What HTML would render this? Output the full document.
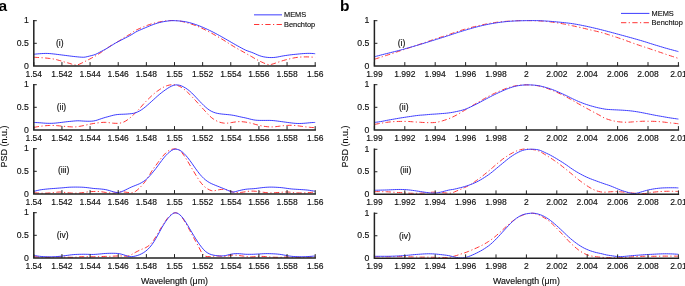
<!DOCTYPE html>
<html><head><meta charset="utf-8"><style>
html,body{margin:0;padding:0;background:#fff;width:685px;height:286px;overflow:hidden;}
svg{display:block;}
text{font-family:"Liberation Sans", sans-serif;stroke:#111;stroke-width:0.15px;}
svg{will-change:transform;}
</style></head><body>
<svg width="685" height="286" viewBox="0 0 685 286">
<path d="M33.80 57.26 C34.13 57.27 35.13 57.33 35.80 57.36 C36.47 57.40 37.13 57.44 37.80 57.47 C38.47 57.51 39.13 57.56 39.80 57.60 C40.47 57.64 41.13 57.68 41.80 57.73 C42.47 57.78 43.13 57.82 43.80 57.87 C44.47 57.92 45.13 57.98 45.80 58.04 C46.47 58.10 47.13 58.17 47.80 58.24 C48.47 58.31 49.13 58.39 49.80 58.47 C50.47 58.55 51.13 58.64 51.80 58.74 C52.47 58.84 53.13 58.94 53.80 59.07 C54.47 59.20 55.13 59.34 55.80 59.50 C56.47 59.66 57.13 59.83 57.80 60.02 C58.47 60.20 59.13 60.39 59.80 60.58 C60.47 60.78 61.13 60.99 61.80 61.19 C62.47 61.39 63.13 61.60 63.80 61.80 C64.47 61.99 65.13 62.18 65.80 62.36 C66.47 62.55 67.13 62.71 67.80 62.89 C68.47 63.08 69.13 63.25 69.80 63.46 C70.47 63.67 71.13 63.92 71.80 64.14 C72.47 64.36 73.13 64.64 73.80 64.80 C74.47 64.95 75.13 65.09 75.80 65.08 C76.47 65.07 77.13 64.93 77.80 64.75 C78.47 64.57 79.13 64.27 79.80 63.99 C80.47 63.71 81.13 63.37 81.80 63.05 C82.47 62.73 83.13 62.39 83.80 62.06 C84.47 61.73 85.13 61.40 85.80 61.06 C86.47 60.73 87.13 60.39 87.80 60.05 C88.47 59.71 89.13 59.37 89.80 59.02 C90.47 58.67 91.13 58.32 91.80 57.96 C92.47 57.60 93.13 57.23 93.80 56.85 C94.47 56.47 95.13 56.08 95.80 55.69 C96.47 55.30 97.13 54.90 97.80 54.49 C98.47 54.08 99.13 53.66 99.80 53.24 C100.47 52.81 101.13 52.38 101.80 51.93 C102.47 51.49 103.13 51.04 103.80 50.58 C104.47 50.11 105.13 49.63 105.80 49.15 C106.47 48.67 107.13 48.18 107.80 47.71 C108.47 47.24 109.13 46.78 109.80 46.33 C110.47 45.89 111.13 45.46 111.80 45.05 C112.47 44.63 113.13 44.23 113.80 43.84 C114.47 43.46 115.13 43.10 115.80 42.74 C116.47 42.38 117.13 42.05 117.80 41.68 C118.47 41.31 119.13 40.93 119.80 40.51 C120.47 40.09 121.13 39.61 121.80 39.15 C122.47 38.68 123.13 38.18 123.80 37.75 C124.47 37.31 125.13 36.91 125.80 36.53 C126.47 36.16 127.13 35.85 127.80 35.49 C128.47 35.12 129.13 34.76 129.80 34.34 C130.47 33.91 131.13 33.41 131.80 32.92 C132.47 32.44 133.13 31.89 133.80 31.45 C134.47 31.00 135.13 30.62 135.80 30.26 C136.47 29.91 137.13 29.61 137.80 29.30 C138.47 28.99 139.13 28.70 139.80 28.41 C140.47 28.12 141.13 27.84 141.80 27.56 C142.47 27.28 143.13 27.01 143.80 26.74 C144.47 26.47 145.13 26.20 145.80 25.94 C146.47 25.68 147.13 25.41 147.80 25.16 C148.47 24.91 149.13 24.66 149.80 24.44 C150.47 24.21 151.13 24.00 151.80 23.80 C152.47 23.61 153.13 23.43 153.80 23.26 C154.47 23.09 155.13 22.94 155.80 22.78 C156.47 22.63 157.13 22.48 157.80 22.33 C158.47 22.18 159.13 22.03 159.80 21.89 C160.47 21.74 161.13 21.60 161.80 21.47 C162.47 21.34 163.13 21.22 163.80 21.12 C164.47 21.02 165.13 20.93 165.80 20.86 C166.47 20.78 167.13 20.73 167.80 20.68 C168.47 20.63 169.13 20.59 169.80 20.56 C170.47 20.54 171.13 20.52 171.80 20.51 C172.47 20.50 173.13 20.50 173.80 20.52 C174.47 20.53 175.13 20.56 175.80 20.60 C176.47 20.65 177.13 20.71 177.80 20.79 C178.47 20.86 179.13 20.95 179.80 21.06 C180.47 21.17 181.13 21.30 181.80 21.45 C182.47 21.59 183.13 21.77 183.80 21.94 C184.47 22.11 185.13 22.29 185.80 22.47 C186.47 22.65 187.13 22.83 187.80 23.02 C188.47 23.21 189.13 23.40 189.80 23.61 C190.47 23.81 191.13 24.01 191.80 24.23 C192.47 24.44 193.13 24.67 193.80 24.90 C194.47 25.14 195.13 25.38 195.80 25.64 C196.47 25.90 197.13 26.17 197.80 26.45 C198.47 26.72 199.13 27.01 199.80 27.31 C200.47 27.60 201.13 27.91 201.80 28.22 C202.47 28.52 203.13 28.84 203.80 29.17 C204.47 29.49 205.13 29.82 205.80 30.16 C206.47 30.50 207.13 30.84 207.80 31.19 C208.47 31.54 209.13 31.89 209.80 32.25 C210.47 32.61 211.13 32.97 211.80 33.34 C212.47 33.71 213.13 34.08 213.80 34.45 C214.47 34.82 215.13 35.20 215.80 35.58 C216.47 35.95 217.13 36.33 217.80 36.71 C218.47 37.09 219.13 37.47 219.80 37.86 C220.47 38.24 221.13 38.63 221.80 39.03 C222.47 39.43 223.13 39.84 223.80 40.25 C224.47 40.67 225.13 41.09 225.80 41.51 C226.47 41.92 227.13 42.35 227.80 42.77 C228.47 43.19 229.13 43.61 229.80 44.03 C230.47 44.45 231.13 44.88 231.80 45.30 C232.47 45.72 233.13 46.14 233.80 46.55 C234.47 46.95 235.13 47.35 235.80 47.74 C236.47 48.13 237.13 48.50 237.80 48.86 C238.47 49.23 239.13 49.59 239.80 49.95 C240.47 50.32 241.13 50.68 241.80 51.05 C242.47 51.42 243.13 51.80 243.80 52.18 C244.47 52.56 245.13 52.95 245.80 53.33 C246.47 53.72 247.13 54.10 247.80 54.47 C248.47 54.85 249.13 55.21 249.80 55.58 C250.47 55.96 251.13 56.33 251.80 56.72 C252.47 57.11 253.13 57.52 253.80 57.91 C254.47 58.31 255.13 58.72 255.80 59.09 C256.47 59.47 257.13 59.83 257.80 60.17 C258.47 60.52 259.13 60.84 259.80 61.16 C260.47 61.48 261.13 61.80 261.80 62.10 C262.47 62.41 263.13 62.72 263.80 63.00 C264.47 63.29 265.13 63.57 265.80 63.82 C266.47 64.06 267.13 64.32 267.80 64.46 C268.47 64.60 269.13 64.69 269.80 64.66 C270.47 64.63 271.13 64.45 271.80 64.28 C272.47 64.11 273.13 63.87 273.80 63.66 C274.47 63.44 275.13 63.22 275.80 62.99 C276.47 62.77 277.13 62.54 277.80 62.31 C278.47 62.09 279.13 61.86 279.80 61.63 C280.47 61.41 281.13 61.18 281.80 60.97 C282.47 60.76 283.13 60.56 283.80 60.36 C284.47 60.17 285.13 59.99 285.80 59.82 C286.47 59.64 287.13 59.47 287.80 59.31 C288.47 59.14 289.13 58.97 289.80 58.81 C290.47 58.66 291.13 58.50 291.80 58.35 C292.47 58.21 293.13 58.07 293.80 57.94 C294.47 57.81 295.13 57.69 295.80 57.58 C296.47 57.48 297.13 57.38 297.80 57.30 C298.47 57.22 299.13 57.15 299.80 57.10 C300.47 57.05 301.13 57.01 301.80 56.98 C302.47 56.94 303.13 56.92 303.80 56.91 C304.47 56.89 305.13 56.89 305.80 56.89 C306.47 56.89 307.13 56.90 307.80 56.92 C308.47 56.94 309.13 56.96 309.80 56.99 C310.47 57.02 311.13 57.05 311.80 57.08 C312.47 57.12 313.23 57.16 313.80 57.18 C314.37 57.21 314.97 57.24 315.20 57.26" fill="none" stroke="#ff3434" stroke-width="1.00" stroke-dasharray="5.3 2.4 1.2 2.4"/>
<path d="M33.80 54.23 C34.13 54.21 35.13 54.11 35.80 54.06 C36.47 54.00 37.13 53.94 37.80 53.88 C38.47 53.83 39.13 53.78 39.80 53.73 C40.47 53.68 41.13 53.63 41.80 53.59 C42.47 53.54 43.13 53.50 43.80 53.47 C44.47 53.44 45.13 53.42 45.80 53.41 C46.47 53.41 47.13 53.43 47.80 53.46 C48.47 53.48 49.13 53.53 49.80 53.59 C50.47 53.64 51.13 53.70 51.80 53.77 C52.47 53.83 53.13 53.90 53.80 53.98 C54.47 54.05 55.13 54.13 55.80 54.21 C56.47 54.30 57.13 54.39 57.80 54.47 C58.47 54.56 59.13 54.65 59.80 54.73 C60.47 54.82 61.13 54.90 61.80 54.98 C62.47 55.07 63.13 55.15 63.80 55.23 C64.47 55.32 65.13 55.40 65.80 55.48 C66.47 55.57 67.13 55.65 67.80 55.74 C68.47 55.82 69.13 55.91 69.80 55.99 C70.47 56.08 71.13 56.16 71.80 56.24 C72.47 56.32 73.13 56.40 73.80 56.47 C74.47 56.55 75.13 56.62 75.80 56.69 C76.47 56.76 77.13 56.83 77.80 56.90 C78.47 56.96 79.13 57.02 79.80 57.07 C80.47 57.12 81.13 57.17 81.80 57.20 C82.47 57.23 83.13 57.27 83.80 57.24 C84.47 57.20 85.13 57.11 85.80 56.99 C86.47 56.87 87.13 56.68 87.80 56.51 C88.47 56.35 89.13 56.18 89.80 56.01 C90.47 55.84 91.13 55.68 91.80 55.51 C92.47 55.33 93.13 55.18 93.80 54.97 C94.47 54.75 95.13 54.53 95.80 54.24 C96.47 53.96 97.13 53.62 97.80 53.28 C98.47 52.93 99.13 52.54 99.80 52.18 C100.47 51.82 101.13 51.46 101.80 51.11 C102.47 50.76 103.13 50.44 103.80 50.09 C104.47 49.74 105.13 49.39 105.80 49.02 C106.47 48.64 107.13 48.24 107.80 47.84 C108.47 47.44 109.13 47.02 109.80 46.60 C110.47 46.19 111.13 45.77 111.80 45.36 C112.47 44.94 113.13 44.52 113.80 44.12 C114.47 43.71 115.13 43.31 115.80 42.92 C116.47 42.54 117.13 42.17 117.80 41.81 C118.47 41.46 119.13 41.12 119.80 40.78 C120.47 40.43 121.13 40.09 121.80 39.75 C122.47 39.41 123.13 39.06 123.80 38.72 C124.47 38.38 125.13 38.04 125.80 37.69 C126.47 37.35 127.13 37.02 127.80 36.68 C128.47 36.33 129.13 35.99 129.80 35.63 C130.47 35.27 131.13 34.90 131.80 34.50 C132.47 34.11 133.13 33.66 133.80 33.24 C134.47 32.82 135.13 32.36 135.80 31.99 C136.47 31.61 137.13 31.30 137.80 30.98 C138.47 30.67 139.13 30.39 139.80 30.10 C140.47 29.81 141.13 29.54 141.80 29.26 C142.47 28.98 143.13 28.70 143.80 28.42 C144.47 28.14 145.13 27.85 145.80 27.56 C146.47 27.28 147.13 26.98 147.80 26.70 C148.47 26.41 149.13 26.13 149.80 25.86 C150.47 25.59 151.13 25.32 151.80 25.07 C152.47 24.81 153.13 24.56 153.80 24.32 C154.47 24.08 155.13 23.85 155.80 23.63 C156.47 23.41 157.13 23.20 157.80 23.01 C158.47 22.82 159.13 22.65 159.80 22.48 C160.47 22.32 161.13 22.17 161.80 22.03 C162.47 21.88 163.13 21.76 163.80 21.63 C164.47 21.51 165.13 21.40 165.80 21.29 C166.47 21.18 167.13 21.08 167.80 21.00 C168.47 20.92 169.13 20.84 169.80 20.79 C170.47 20.73 171.13 20.69 171.80 20.67 C172.47 20.65 173.13 20.65 173.80 20.66 C174.47 20.67 175.13 20.70 175.80 20.73 C176.47 20.76 177.13 20.81 177.80 20.85 C178.47 20.90 179.13 20.95 179.80 21.01 C180.47 21.07 181.13 21.14 181.80 21.22 C182.47 21.30 183.13 21.38 183.80 21.48 C184.47 21.58 185.13 21.69 185.80 21.82 C186.47 21.94 187.13 22.08 187.80 22.23 C188.47 22.38 189.13 22.54 189.80 22.72 C190.47 22.90 191.13 23.09 191.80 23.30 C192.47 23.50 193.13 23.71 193.80 23.93 C194.47 24.15 195.13 24.37 195.80 24.60 C196.47 24.83 197.13 25.07 197.80 25.32 C198.47 25.56 199.13 25.81 199.80 26.07 C200.47 26.33 201.13 26.60 201.80 26.88 C202.47 27.15 203.13 27.44 203.80 27.73 C204.47 28.02 205.13 28.32 205.80 28.62 C206.47 28.93 207.13 29.24 207.80 29.55 C208.47 29.87 209.13 30.18 209.80 30.51 C210.47 30.83 211.13 31.16 211.80 31.49 C212.47 31.82 213.13 32.16 213.80 32.50 C214.47 32.85 215.13 33.20 215.80 33.55 C216.47 33.90 217.13 34.26 217.80 34.63 C218.47 34.99 219.13 35.36 219.80 35.73 C220.47 36.10 221.13 36.48 221.80 36.85 C222.47 37.23 223.13 37.61 223.80 37.99 C224.47 38.37 225.13 38.76 225.80 39.14 C226.47 39.53 227.13 39.91 227.80 40.30 C228.47 40.68 229.13 41.07 229.80 41.45 C230.47 41.84 231.13 42.22 231.80 42.61 C232.47 42.99 233.13 43.38 233.80 43.76 C234.47 44.14 235.13 44.52 235.80 44.89 C236.47 45.27 237.13 45.64 237.80 46.01 C238.47 46.38 239.13 46.75 239.80 47.12 C240.47 47.48 241.13 47.84 241.80 48.19 C242.47 48.55 243.13 48.91 243.80 49.25 C244.47 49.58 245.13 49.93 245.80 50.23 C246.47 50.52 247.13 50.77 247.80 51.01 C248.47 51.26 249.13 51.46 249.80 51.69 C250.47 51.92 251.13 52.14 251.80 52.39 C252.47 52.64 253.13 52.92 253.80 53.20 C254.47 53.49 255.13 53.81 255.80 54.10 C256.47 54.40 257.13 54.71 257.80 54.99 C258.47 55.27 259.13 55.54 259.80 55.78 C260.47 56.02 261.13 56.23 261.80 56.41 C262.47 56.59 263.13 56.74 263.80 56.87 C264.47 57.00 265.13 57.10 265.80 57.19 C266.47 57.29 267.13 57.36 267.80 57.42 C268.47 57.48 269.13 57.52 269.80 57.55 C270.47 57.57 271.13 57.58 271.80 57.57 C272.47 57.55 273.13 57.53 273.80 57.48 C274.47 57.43 275.13 57.37 275.80 57.28 C276.47 57.20 277.13 57.08 277.80 56.96 C278.47 56.84 279.13 56.68 279.80 56.55 C280.47 56.42 281.13 56.28 281.80 56.15 C282.47 56.03 283.13 55.92 283.80 55.80 C284.47 55.69 285.13 55.59 285.80 55.49 C286.47 55.38 287.13 55.29 287.80 55.19 C288.47 55.10 289.13 55.01 289.80 54.93 C290.47 54.84 291.13 54.76 291.80 54.69 C292.47 54.61 293.13 54.55 293.80 54.48 C294.47 54.41 295.13 54.35 295.80 54.29 C296.47 54.22 297.13 54.15 297.80 54.08 C298.47 54.02 299.13 53.94 299.80 53.88 C300.47 53.82 301.13 53.76 301.80 53.70 C302.47 53.64 303.13 53.59 303.80 53.55 C304.47 53.50 305.13 53.46 305.80 53.43 C306.47 53.40 307.13 53.38 307.80 53.37 C308.47 53.36 309.13 53.36 309.80 53.37 C310.47 53.38 311.13 53.40 311.80 53.44 C312.47 53.47 313.23 53.54 313.80 53.59 C314.37 53.64 314.97 53.71 315.20 53.73" fill="none" stroke="#3c3cff" stroke-width="1.00"/>
<path d="M33.80 19.95 V65.90 H315.95" fill="none" stroke="#222" stroke-width="1.50"/>
<path d="M33.80 65.90 V62.10 M61.94 65.90 V62.10 M90.08 65.90 V62.10 M118.22 65.90 V62.10 M146.36 65.90 V62.10 M174.50 65.90 V62.10 M202.64 65.90 V62.10 M230.78 65.90 V62.10 M258.92 65.90 V62.10 M287.06 65.90 V62.10 M315.20 65.90 V62.10 M33.80 43.30 H36.80 M33.80 20.70 H36.80" fill="none" stroke="#222" stroke-width="1"/>
<text x="33.80" y="76.50" font-family="Liberation Sans, sans-serif" font-size="8.50" fill="#111" text-anchor="middle">1.54</text>
<text x="61.94" y="76.50" font-family="Liberation Sans, sans-serif" font-size="8.50" fill="#111" text-anchor="middle">1.542</text>
<text x="90.08" y="76.50" font-family="Liberation Sans, sans-serif" font-size="8.50" fill="#111" text-anchor="middle">1.544</text>
<text x="118.22" y="76.50" font-family="Liberation Sans, sans-serif" font-size="8.50" fill="#111" text-anchor="middle">1.546</text>
<text x="146.36" y="76.50" font-family="Liberation Sans, sans-serif" font-size="8.50" fill="#111" text-anchor="middle">1.548</text>
<text x="174.50" y="76.50" font-family="Liberation Sans, sans-serif" font-size="8.50" fill="#111" text-anchor="middle">1.55</text>
<text x="202.64" y="76.50" font-family="Liberation Sans, sans-serif" font-size="8.50" fill="#111" text-anchor="middle">1.552</text>
<text x="230.78" y="76.50" font-family="Liberation Sans, sans-serif" font-size="8.50" fill="#111" text-anchor="middle">1.554</text>
<text x="258.92" y="76.50" font-family="Liberation Sans, sans-serif" font-size="8.50" fill="#111" text-anchor="middle">1.556</text>
<text x="287.06" y="76.50" font-family="Liberation Sans, sans-serif" font-size="8.50" fill="#111" text-anchor="middle">1.558</text>
<text x="315.20" y="76.50" font-family="Liberation Sans, sans-serif" font-size="8.50" fill="#111" text-anchor="middle">1.56</text>
<text x="28.80" y="68.60" font-family="Liberation Sans, sans-serif" font-size="8.70" fill="#111" text-anchor="end">0</text>
<text x="28.80" y="46.00" font-family="Liberation Sans, sans-serif" font-size="8.70" fill="#111" text-anchor="end">0.5</text>
<text x="28.80" y="23.40" font-family="Liberation Sans, sans-serif" font-size="8.70" fill="#111" text-anchor="end">1</text>
<text x="56.00" y="46.35" font-family="Liberation Sans, sans-serif" font-size="8.60" fill="#111">(i)</text>
<path d="M33.80 127.46 C34.13 127.40 35.13 127.19 35.80 127.05 C36.47 126.92 37.13 126.79 37.80 126.68 C38.47 126.56 39.13 126.46 39.80 126.36 C40.47 126.26 41.13 126.18 41.80 126.10 C42.47 126.02 43.13 125.95 43.80 125.88 C44.47 125.82 45.13 125.75 45.80 125.70 C46.47 125.64 47.13 125.59 47.80 125.55 C48.47 125.51 49.13 125.48 49.80 125.46 C50.47 125.45 51.13 125.44 51.80 125.45 C52.47 125.45 53.13 125.47 53.80 125.49 C54.47 125.51 55.13 125.54 55.80 125.58 C56.47 125.62 57.13 125.67 57.80 125.73 C58.47 125.79 59.13 125.86 59.80 125.93 C60.47 126.00 61.13 126.08 61.80 126.14 C62.47 126.21 63.13 126.28 63.80 126.34 C64.47 126.40 65.13 126.45 65.80 126.50 C66.47 126.55 67.13 126.60 67.80 126.65 C68.47 126.70 69.13 126.74 69.80 126.78 C70.47 126.83 71.13 126.87 71.80 126.90 C72.47 126.93 73.13 126.96 73.80 126.96 C74.47 126.95 75.13 126.92 75.80 126.87 C76.47 126.82 77.13 126.73 77.80 126.63 C78.47 126.54 79.13 126.43 79.80 126.31 C80.47 126.20 81.13 126.08 81.80 125.95 C82.47 125.82 83.13 125.68 83.80 125.54 C84.47 125.40 85.13 125.25 85.80 125.10 C86.47 124.94 87.13 124.78 87.80 124.62 C88.47 124.47 89.13 124.31 89.80 124.17 C90.47 124.04 91.13 123.91 91.80 123.79 C92.47 123.68 93.13 123.57 93.80 123.47 C94.47 123.36 95.13 123.26 95.80 123.16 C96.47 123.07 97.13 122.97 97.80 122.88 C98.47 122.79 99.13 122.71 99.80 122.64 C100.47 122.57 101.13 122.50 101.80 122.45 C102.47 122.40 103.13 122.35 103.80 122.34 C104.47 122.32 105.13 122.33 105.80 122.36 C106.47 122.39 107.13 122.46 107.80 122.53 C108.47 122.61 109.13 122.70 109.80 122.79 C110.47 122.88 111.13 122.98 111.80 123.06 C112.47 123.13 113.13 123.20 113.80 123.24 C114.47 123.29 115.13 123.32 115.80 123.33 C116.47 123.35 117.13 123.36 117.80 123.33 C118.47 123.30 119.13 123.24 119.80 123.13 C120.47 123.03 121.13 122.90 121.80 122.71 C122.47 122.52 123.13 122.30 123.80 122.01 C124.47 121.71 125.13 121.35 125.80 120.95 C126.47 120.55 127.13 120.08 127.80 119.59 C128.47 119.10 129.13 118.58 129.80 118.02 C130.47 117.47 131.13 116.88 131.80 116.28 C132.47 115.68 133.13 115.05 133.80 114.42 C134.47 113.79 135.13 113.15 135.80 112.49 C136.47 111.84 137.13 111.18 137.80 110.49 C138.47 109.80 139.13 109.08 139.80 108.34 C140.47 107.59 141.13 106.79 141.80 106.01 C142.47 105.24 143.13 104.44 143.80 103.70 C144.47 102.95 145.13 102.25 145.80 101.56 C146.47 100.87 147.13 100.22 147.80 99.56 C148.47 98.90 149.13 98.26 149.80 97.62 C150.47 96.98 151.13 96.32 151.80 95.70 C152.47 95.08 153.13 94.47 153.80 93.90 C154.47 93.32 155.13 92.78 155.80 92.26 C156.47 91.75 157.13 91.27 157.80 90.80 C158.47 90.33 159.13 89.87 159.80 89.43 C160.47 88.99 161.13 88.56 161.80 88.16 C162.47 87.76 163.13 87.37 163.80 87.03 C164.47 86.69 165.13 86.39 165.80 86.13 C166.47 85.87 167.13 85.64 167.80 85.45 C168.47 85.26 169.13 85.10 169.80 84.98 C170.47 84.86 171.13 84.76 171.80 84.71 C172.47 84.66 173.13 84.64 173.80 84.69 C174.47 84.73 175.13 84.83 175.80 84.98 C176.47 85.13 177.13 85.34 177.80 85.58 C178.47 85.82 179.13 86.10 179.80 86.44 C180.47 86.78 181.13 87.17 181.80 87.61 C182.47 88.04 183.13 88.55 183.80 89.06 C184.47 89.58 185.13 90.12 185.80 90.69 C186.47 91.27 187.13 91.88 187.80 92.50 C188.47 93.13 189.13 93.79 189.80 94.46 C190.47 95.13 191.13 95.82 191.80 96.52 C192.47 97.22 193.13 97.94 193.80 98.66 C194.47 99.39 195.13 100.11 195.80 100.84 C196.47 101.57 197.13 102.30 197.80 103.04 C198.47 103.77 199.13 104.51 199.80 105.25 C200.47 105.98 201.13 106.72 201.80 107.45 C202.47 108.19 203.13 108.92 203.80 109.65 C204.47 110.39 205.13 111.12 205.80 111.85 C206.47 112.59 207.13 113.34 207.80 114.05 C208.47 114.76 209.13 115.46 209.80 116.09 C210.47 116.72 211.13 117.30 211.80 117.83 C212.47 118.36 213.13 118.84 213.80 119.29 C214.47 119.74 215.13 120.14 215.80 120.51 C216.47 120.87 217.13 121.19 217.80 121.48 C218.47 121.77 219.13 122.02 219.80 122.24 C220.47 122.45 221.13 122.64 221.80 122.78 C222.47 122.93 223.13 123.04 223.80 123.12 C224.47 123.19 225.13 123.23 225.80 123.23 C226.47 123.22 227.13 123.17 227.80 123.10 C228.47 123.04 229.13 122.94 229.80 122.84 C230.47 122.75 231.13 122.64 231.80 122.53 C232.47 122.42 233.13 122.29 233.80 122.18 C234.47 122.08 235.13 121.98 235.80 121.90 C236.47 121.82 237.13 121.75 237.80 121.70 C238.47 121.66 239.13 121.62 239.80 121.62 C240.47 121.62 241.13 121.64 241.80 121.68 C242.47 121.73 243.13 121.80 243.80 121.88 C244.47 121.96 245.13 122.05 245.80 122.15 C246.47 122.25 247.13 122.36 247.80 122.48 C248.47 122.61 249.13 122.74 249.80 122.89 C250.47 123.03 251.13 123.18 251.80 123.35 C252.47 123.52 253.13 123.73 253.80 123.92 C254.47 124.12 255.13 124.33 255.80 124.52 C256.47 124.71 257.13 124.87 257.80 125.03 C258.47 125.20 259.13 125.35 259.80 125.50 C260.47 125.65 261.13 125.79 261.80 125.91 C262.47 126.04 263.13 126.17 263.80 126.28 C264.47 126.38 265.13 126.48 265.80 126.57 C266.47 126.65 267.13 126.73 267.80 126.78 C268.47 126.84 269.13 126.89 269.80 126.91 C270.47 126.93 271.13 126.94 271.80 126.93 C272.47 126.92 273.13 126.88 273.80 126.83 C274.47 126.79 275.13 126.72 275.80 126.66 C276.47 126.59 277.13 126.51 277.80 126.42 C278.47 126.34 279.13 126.24 279.80 126.15 C280.47 126.06 281.13 125.97 281.80 125.89 C282.47 125.81 283.13 125.74 283.80 125.67 C284.47 125.61 285.13 125.54 285.80 125.49 C286.47 125.44 287.13 125.40 287.80 125.37 C288.47 125.33 289.13 125.31 289.80 125.30 C290.47 125.29 291.13 125.29 291.80 125.31 C292.47 125.33 293.13 125.36 293.80 125.41 C294.47 125.45 295.13 125.51 295.80 125.57 C296.47 125.64 297.13 125.72 297.80 125.80 C298.47 125.88 299.13 125.98 299.80 126.07 C300.47 126.16 301.13 126.25 301.80 126.35 C302.47 126.44 303.13 126.53 303.80 126.62 C304.47 126.71 305.13 126.80 305.80 126.88 C306.47 126.96 307.13 127.04 307.80 127.11 C308.47 127.18 309.13 127.25 309.80 127.31 C310.47 127.38 311.13 127.43 311.80 127.48 C312.47 127.52 313.23 127.55 313.80 127.58 C314.37 127.61 314.97 127.62 315.20 127.63" fill="none" stroke="#ff3434" stroke-width="1.00" stroke-dasharray="5.3 2.4 1.2 2.4"/>
<path d="M33.80 122.43 C34.13 122.45 35.13 122.50 35.80 122.54 C36.47 122.57 37.13 122.61 37.80 122.65 C38.47 122.69 39.13 122.73 39.80 122.78 C40.47 122.83 41.13 122.88 41.80 122.93 C42.47 122.99 43.13 123.05 43.80 123.10 C44.47 123.15 45.13 123.19 45.80 123.23 C46.47 123.26 47.13 123.29 47.80 123.30 C48.47 123.32 49.13 123.33 49.80 123.33 C50.47 123.33 51.13 123.33 51.80 123.31 C52.47 123.29 53.13 123.26 53.80 123.21 C54.47 123.17 55.13 123.11 55.80 123.05 C56.47 122.99 57.13 122.91 57.80 122.83 C58.47 122.76 59.13 122.68 59.80 122.60 C60.47 122.52 61.13 122.44 61.80 122.36 C62.47 122.27 63.13 122.19 63.80 122.10 C64.47 122.02 65.13 121.93 65.80 121.85 C66.47 121.77 67.13 121.70 67.80 121.62 C68.47 121.55 69.13 121.48 69.80 121.42 C70.47 121.35 71.13 121.28 71.80 121.22 C72.47 121.16 73.13 121.10 73.80 121.04 C74.47 120.98 75.13 120.92 75.80 120.88 C76.47 120.83 77.13 120.79 77.80 120.79 C78.47 120.78 79.13 120.80 79.80 120.83 C80.47 120.86 81.13 120.93 81.80 120.98 C82.47 121.02 83.13 121.07 83.80 121.10 C84.47 121.14 85.13 121.16 85.80 121.19 C86.47 121.21 87.13 121.23 87.80 121.24 C88.47 121.25 89.13 121.26 89.80 121.24 C90.47 121.23 91.13 121.21 91.80 121.16 C92.47 121.11 93.13 121.05 93.80 120.95 C94.47 120.84 95.13 120.70 95.80 120.53 C96.47 120.35 97.13 120.12 97.80 119.90 C98.47 119.68 99.13 119.42 99.80 119.19 C100.47 118.96 101.13 118.73 101.80 118.51 C102.47 118.28 103.13 118.06 103.80 117.86 C104.47 117.65 105.13 117.47 105.80 117.28 C106.47 117.10 107.13 116.93 107.80 116.75 C108.47 116.56 109.13 116.38 109.80 116.19 C110.47 116.01 111.13 115.81 111.80 115.63 C112.47 115.45 113.13 115.28 113.80 115.13 C114.47 114.99 115.13 114.86 115.80 114.76 C116.47 114.65 117.13 114.57 117.80 114.51 C118.47 114.44 119.13 114.39 119.80 114.35 C120.47 114.31 121.13 114.29 121.80 114.27 C122.47 114.25 123.13 114.24 123.80 114.21 C124.47 114.19 125.13 114.15 125.80 114.12 C126.47 114.08 127.13 114.03 127.80 113.98 C128.47 113.93 129.13 113.88 129.80 113.81 C130.47 113.75 131.13 113.70 131.80 113.60 C132.47 113.51 133.13 113.41 133.80 113.25 C134.47 113.10 135.13 112.90 135.80 112.67 C136.47 112.44 137.13 112.17 137.80 111.86 C138.47 111.55 139.13 111.21 139.80 110.83 C140.47 110.46 141.13 110.04 141.80 109.59 C142.47 109.15 143.13 108.67 143.80 108.16 C144.47 107.65 145.13 107.11 145.80 106.56 C146.47 106.00 147.13 105.40 147.80 104.81 C148.47 104.22 149.13 103.62 149.80 103.03 C150.47 102.43 151.13 101.83 151.80 101.23 C152.47 100.63 153.13 100.03 153.80 99.42 C154.47 98.82 155.13 98.21 155.80 97.60 C156.47 97.00 157.13 96.38 157.80 95.79 C158.47 95.20 159.13 94.63 159.80 94.08 C160.47 93.53 161.13 93.00 161.80 92.49 C162.47 91.98 163.13 91.48 163.80 90.99 C164.47 90.51 165.13 90.03 165.80 89.56 C166.47 89.10 167.13 88.64 167.80 88.21 C168.47 87.79 169.13 87.39 169.80 87.02 C170.47 86.65 171.13 86.30 171.80 86.01 C172.47 85.72 173.13 85.45 173.80 85.26 C174.47 85.08 175.13 84.95 175.80 84.90 C176.47 84.85 177.13 84.88 177.80 84.95 C178.47 85.02 179.13 85.15 179.80 85.33 C180.47 85.52 181.13 85.76 181.80 86.04 C182.47 86.32 183.13 86.66 183.80 87.02 C184.47 87.37 185.13 87.76 185.80 88.19 C186.47 88.61 187.13 89.07 187.80 89.57 C188.47 90.06 189.13 90.60 189.80 91.17 C190.47 91.75 191.13 92.37 191.80 93.01 C192.47 93.66 193.13 94.35 193.80 95.04 C194.47 95.72 195.13 96.43 195.80 97.13 C196.47 97.84 197.13 98.56 197.80 99.27 C198.47 99.98 199.13 100.69 199.80 101.40 C200.47 102.10 201.13 102.80 201.80 103.48 C202.47 104.16 203.13 104.84 203.80 105.48 C204.47 106.12 205.13 106.74 205.80 107.32 C206.47 107.90 207.13 108.45 207.80 108.96 C208.47 109.46 209.13 109.94 209.80 110.36 C210.47 110.78 211.13 111.15 211.80 111.48 C212.47 111.81 213.13 112.08 213.80 112.33 C214.47 112.58 215.13 112.80 215.80 112.99 C216.47 113.17 217.13 113.32 217.80 113.45 C218.47 113.59 219.13 113.69 219.80 113.79 C220.47 113.89 221.13 113.97 221.80 114.04 C222.47 114.12 223.13 114.18 223.80 114.24 C224.47 114.30 225.13 114.36 225.80 114.42 C226.47 114.48 227.13 114.54 227.80 114.61 C228.47 114.67 229.13 114.74 229.80 114.82 C230.47 114.90 231.13 114.99 231.80 115.09 C232.47 115.19 233.13 115.30 233.80 115.42 C234.47 115.54 235.13 115.67 235.80 115.82 C236.47 115.96 237.13 116.11 237.80 116.27 C238.47 116.42 239.13 116.59 239.80 116.74 C240.47 116.89 241.13 117.03 241.80 117.17 C242.47 117.30 243.13 117.43 243.80 117.56 C244.47 117.70 245.13 117.84 245.80 117.99 C246.47 118.14 247.13 118.31 247.80 118.48 C248.47 118.65 249.13 118.83 249.80 119.00 C250.47 119.17 251.13 119.34 251.80 119.49 C252.47 119.64 253.13 119.79 253.80 119.91 C254.47 120.02 255.13 120.12 255.80 120.19 C256.47 120.27 257.13 120.31 257.80 120.34 C258.47 120.38 259.13 120.39 259.80 120.40 C260.47 120.41 261.13 120.42 261.80 120.42 C262.47 120.42 263.13 120.42 263.80 120.42 C264.47 120.42 265.13 120.42 265.80 120.42 C266.47 120.41 267.13 120.40 267.80 120.40 C268.47 120.40 269.13 120.38 269.80 120.40 C270.47 120.41 271.13 120.43 271.80 120.47 C272.47 120.52 273.13 120.58 273.80 120.65 C274.47 120.71 275.13 120.79 275.80 120.87 C276.47 120.95 277.13 121.04 277.80 121.12 C278.47 121.21 279.13 121.30 279.80 121.39 C280.47 121.48 281.13 121.58 281.80 121.67 C282.47 121.76 283.13 121.84 283.80 121.93 C284.47 122.02 285.13 122.11 285.80 122.20 C286.47 122.29 287.13 122.38 287.80 122.47 C288.47 122.56 289.13 122.65 289.80 122.74 C290.47 122.83 291.13 122.91 291.80 122.99 C292.47 123.07 293.13 123.15 293.80 123.22 C294.47 123.28 295.13 123.34 295.80 123.39 C296.47 123.43 297.13 123.45 297.80 123.47 C298.47 123.48 299.13 123.48 299.80 123.47 C300.47 123.46 301.13 123.44 301.80 123.41 C302.47 123.38 303.13 123.34 303.80 123.30 C304.47 123.25 305.13 123.20 305.80 123.15 C306.47 123.09 307.13 123.03 307.80 122.96 C308.47 122.90 309.13 122.82 309.80 122.76 C310.47 122.70 311.13 122.63 311.80 122.59 C312.47 122.54 313.23 122.51 313.80 122.48 C314.37 122.46 314.97 122.44 315.20 122.43" fill="none" stroke="#3c3cff" stroke-width="1.00"/>
<path d="M33.80 83.95 V129.90 H315.95" fill="none" stroke="#222" stroke-width="1.50"/>
<path d="M33.80 129.90 V126.10 M61.94 129.90 V126.10 M90.08 129.90 V126.10 M118.22 129.90 V126.10 M146.36 129.90 V126.10 M174.50 129.90 V126.10 M202.64 129.90 V126.10 M230.78 129.90 V126.10 M258.92 129.90 V126.10 M287.06 129.90 V126.10 M315.20 129.90 V126.10 M33.80 107.30 H36.80 M33.80 84.70 H36.80" fill="none" stroke="#222" stroke-width="1"/>
<text x="33.80" y="140.50" font-family="Liberation Sans, sans-serif" font-size="8.50" fill="#111" text-anchor="middle">1.54</text>
<text x="61.94" y="140.50" font-family="Liberation Sans, sans-serif" font-size="8.50" fill="#111" text-anchor="middle">1.542</text>
<text x="90.08" y="140.50" font-family="Liberation Sans, sans-serif" font-size="8.50" fill="#111" text-anchor="middle">1.544</text>
<text x="118.22" y="140.50" font-family="Liberation Sans, sans-serif" font-size="8.50" fill="#111" text-anchor="middle">1.546</text>
<text x="146.36" y="140.50" font-family="Liberation Sans, sans-serif" font-size="8.50" fill="#111" text-anchor="middle">1.548</text>
<text x="174.50" y="140.50" font-family="Liberation Sans, sans-serif" font-size="8.50" fill="#111" text-anchor="middle">1.55</text>
<text x="202.64" y="140.50" font-family="Liberation Sans, sans-serif" font-size="8.50" fill="#111" text-anchor="middle">1.552</text>
<text x="230.78" y="140.50" font-family="Liberation Sans, sans-serif" font-size="8.50" fill="#111" text-anchor="middle">1.554</text>
<text x="258.92" y="140.50" font-family="Liberation Sans, sans-serif" font-size="8.50" fill="#111" text-anchor="middle">1.556</text>
<text x="287.06" y="140.50" font-family="Liberation Sans, sans-serif" font-size="8.50" fill="#111" text-anchor="middle">1.558</text>
<text x="315.20" y="140.50" font-family="Liberation Sans, sans-serif" font-size="8.50" fill="#111" text-anchor="middle">1.56</text>
<text x="28.80" y="132.60" font-family="Liberation Sans, sans-serif" font-size="8.70" fill="#111" text-anchor="end">0</text>
<text x="28.80" y="110.00" font-family="Liberation Sans, sans-serif" font-size="8.70" fill="#111" text-anchor="end">0.5</text>
<text x="28.80" y="87.40" font-family="Liberation Sans, sans-serif" font-size="8.70" fill="#111" text-anchor="end">1</text>
<text x="56.70" y="110.15" font-family="Liberation Sans, sans-serif" font-size="8.60" fill="#111">(ii)</text>
<path d="M33.80 192.64 C34.13 192.67 35.13 192.77 35.80 192.83 C36.47 192.89 37.13 192.96 37.80 193.01 C38.47 193.06 39.13 193.10 39.80 193.13 C40.47 193.16 41.13 193.18 41.80 193.19 C42.47 193.20 43.13 193.20 43.80 193.19 C44.47 193.19 45.13 193.17 45.80 193.15 C46.47 193.13 47.13 193.10 47.80 193.06 C48.47 193.03 49.13 192.98 49.80 192.92 C50.47 192.87 51.13 192.82 51.80 192.75 C52.47 192.69 53.13 192.63 53.80 192.56 C54.47 192.49 55.13 192.40 55.80 192.32 C56.47 192.25 57.13 192.15 57.80 192.10 C58.47 192.05 59.13 192.01 59.80 192.01 C60.47 192.00 61.13 192.04 61.80 192.09 C62.47 192.14 63.13 192.23 63.80 192.31 C64.47 192.39 65.13 192.48 65.80 192.55 C66.47 192.62 67.13 192.69 67.80 192.75 C68.47 192.81 69.13 192.87 69.80 192.93 C70.47 192.98 71.13 193.03 71.80 193.07 C72.47 193.10 73.13 193.13 73.80 193.14 C74.47 193.15 75.13 193.15 75.80 193.14 C76.47 193.13 77.13 193.11 77.80 193.08 C78.47 193.06 79.13 193.02 79.80 192.97 C80.47 192.92 81.13 192.85 81.80 192.77 C82.47 192.69 83.13 192.58 83.80 192.48 C84.47 192.39 85.13 192.28 85.80 192.18 C86.47 192.09 87.13 191.98 87.80 191.89 C88.47 191.81 89.13 191.73 89.80 191.67 C90.47 191.61 91.13 191.58 91.80 191.55 C92.47 191.51 93.13 191.50 93.80 191.48 C94.47 191.47 95.13 191.46 95.80 191.47 C96.47 191.47 97.13 191.48 97.80 191.50 C98.47 191.53 99.13 191.56 99.80 191.62 C100.47 191.67 101.13 191.74 101.80 191.82 C102.47 191.91 103.13 192.03 103.80 192.13 C104.47 192.24 105.13 192.37 105.80 192.47 C106.47 192.56 107.13 192.64 107.80 192.71 C108.47 192.78 109.13 192.84 109.80 192.90 C110.47 192.96 111.13 193.04 111.80 193.07 C112.47 193.10 113.13 193.14 113.80 193.08 C114.47 193.03 115.13 192.90 115.80 192.76 C116.47 192.63 117.13 192.41 117.80 192.27 C118.47 192.13 119.13 192.01 119.80 191.95 C120.47 191.88 121.13 191.88 121.80 191.88 C122.47 191.88 123.13 191.92 123.80 191.97 C124.47 192.02 125.13 192.09 125.80 192.18 C126.47 192.26 127.13 192.37 127.80 192.46 C128.47 192.55 129.13 192.64 129.80 192.69 C130.47 192.75 131.13 192.83 131.80 192.77 C132.47 192.71 133.13 192.59 133.80 192.32 C134.47 192.05 135.13 191.62 135.80 191.16 C136.47 190.69 137.13 190.12 137.80 189.54 C138.47 188.96 139.13 188.34 139.80 187.69 C140.47 187.03 141.13 186.34 141.80 185.60 C142.47 184.86 143.13 184.07 143.80 183.24 C144.47 182.41 145.13 181.54 145.80 180.62 C146.47 179.69 147.13 178.72 147.80 177.69 C148.47 176.66 149.13 175.52 149.80 174.42 C150.47 173.32 151.13 172.14 151.80 171.08 C152.47 170.03 153.13 169.03 153.80 168.08 C154.47 167.13 155.13 166.28 155.80 165.39 C156.47 164.51 157.13 163.65 157.80 162.76 C158.47 161.87 159.13 160.95 159.80 160.05 C160.47 159.16 161.13 158.25 161.80 157.42 C162.47 156.58 163.13 155.78 163.80 155.03 C164.47 154.29 165.13 153.57 165.80 152.94 C166.47 152.31 167.13 151.74 167.80 151.26 C168.47 150.78 169.13 150.40 169.80 150.08 C170.47 149.75 171.13 149.51 171.80 149.32 C172.47 149.12 173.13 148.97 173.80 148.89 C174.47 148.82 175.13 148.78 175.80 148.86 C176.47 148.93 177.13 149.06 177.80 149.33 C178.47 149.59 179.13 149.92 179.80 150.45 C180.47 150.97 181.13 151.68 181.80 152.47 C182.47 153.27 183.13 154.27 183.80 155.23 C184.47 156.19 185.13 157.20 185.80 158.25 C186.47 159.30 187.13 160.42 187.80 161.53 C188.47 162.64 189.13 163.80 189.80 164.93 C190.47 166.06 191.13 167.18 191.80 168.30 C192.47 169.42 193.13 170.53 193.80 171.64 C194.47 172.75 195.13 173.86 195.80 174.96 C196.47 176.06 197.13 177.20 197.80 178.26 C198.47 179.31 199.13 180.36 199.80 181.29 C200.47 182.22 201.13 183.07 201.80 183.84 C202.47 184.62 203.13 185.31 203.80 185.95 C204.47 186.59 205.13 187.16 205.80 187.67 C206.47 188.18 207.13 188.61 207.80 189.01 C208.47 189.40 209.13 189.76 209.80 190.05 C210.47 190.33 211.13 190.60 211.80 190.73 C212.47 190.87 213.13 190.89 213.80 190.85 C214.47 190.81 215.13 190.63 215.80 190.48 C216.47 190.34 217.13 190.14 217.80 189.99 C218.47 189.84 219.13 189.71 219.80 189.61 C220.47 189.50 221.13 189.41 221.80 189.37 C222.47 189.32 223.13 189.31 223.80 189.34 C224.47 189.38 225.13 189.47 225.80 189.59 C226.47 189.71 227.13 189.86 227.80 190.07 C228.47 190.28 229.13 190.58 229.80 190.86 C230.47 191.15 231.13 191.53 231.80 191.77 C232.47 192.01 233.13 192.17 233.80 192.29 C234.47 192.42 235.13 192.49 235.80 192.54 C236.47 192.59 237.13 192.62 237.80 192.61 C238.47 192.61 239.13 192.58 239.80 192.53 C240.47 192.48 241.13 192.41 241.80 192.32 C242.47 192.24 243.13 192.14 243.80 192.03 C244.47 191.93 245.13 191.79 245.80 191.69 C246.47 191.58 247.13 191.47 247.80 191.39 C248.47 191.30 249.13 191.23 249.80 191.19 C250.47 191.14 251.13 191.11 251.80 191.10 C252.47 191.09 253.13 191.11 253.80 191.14 C254.47 191.18 255.13 191.23 255.80 191.29 C256.47 191.35 257.13 191.42 257.80 191.50 C258.47 191.58 259.13 191.69 259.80 191.78 C260.47 191.87 261.13 191.97 261.80 192.06 C262.47 192.16 263.13 192.26 263.80 192.34 C264.47 192.43 265.13 192.52 265.80 192.59 C266.47 192.67 267.13 192.73 267.80 192.79 C268.47 192.84 269.13 192.89 269.80 192.92 C270.47 192.94 271.13 192.95 271.80 192.94 C272.47 192.92 273.13 192.87 273.80 192.83 C274.47 192.79 275.13 192.72 275.80 192.67 C276.47 192.62 277.13 192.58 277.80 192.53 C278.47 192.49 279.13 192.44 279.80 192.40 C280.47 192.35 281.13 192.30 281.80 192.25 C282.47 192.20 283.13 192.14 283.80 192.10 C284.47 192.06 285.13 192.01 285.80 192.00 C286.47 191.99 287.13 192.01 287.80 192.03 C288.47 192.06 289.13 192.12 289.80 192.17 C290.47 192.23 291.13 192.29 291.80 192.35 C292.47 192.42 293.13 192.49 293.80 192.56 C294.47 192.63 295.13 192.70 295.80 192.75 C296.47 192.80 297.13 192.85 297.80 192.88 C298.47 192.91 299.13 192.93 299.80 192.95 C300.47 192.96 301.13 192.97 301.80 192.96 C302.47 192.96 303.13 192.95 303.80 192.92 C304.47 192.90 305.13 192.87 305.80 192.83 C306.47 192.79 307.13 192.74 307.80 192.68 C308.47 192.62 309.13 192.54 309.80 192.48 C310.47 192.41 311.13 192.34 311.80 192.27 C312.47 192.21 313.23 192.14 313.80 192.09 C314.37 192.04 314.97 191.99 315.20 191.97" fill="none" stroke="#ff3434" stroke-width="1.00" stroke-dasharray="5.3 2.4 1.2 2.4"/>
<path d="M33.80 191.46 C34.13 191.37 35.13 191.07 35.80 190.89 C36.47 190.70 37.13 190.52 37.80 190.37 C38.47 190.21 39.13 190.08 39.80 189.95 C40.47 189.83 41.13 189.73 41.80 189.63 C42.47 189.53 43.13 189.45 43.80 189.37 C44.47 189.29 45.13 189.22 45.80 189.15 C46.47 189.08 47.13 189.02 47.80 188.96 C48.47 188.90 49.13 188.84 49.80 188.78 C50.47 188.72 51.13 188.67 51.80 188.62 C52.47 188.57 53.13 188.52 53.80 188.47 C54.47 188.42 55.13 188.37 55.80 188.33 C56.47 188.28 57.13 188.23 57.80 188.18 C58.47 188.13 59.13 188.08 59.80 188.03 C60.47 187.98 61.13 187.94 61.80 187.88 C62.47 187.83 63.13 187.77 63.80 187.71 C64.47 187.65 65.13 187.57 65.80 187.50 C66.47 187.44 67.13 187.37 67.80 187.32 C68.47 187.26 69.13 187.23 69.80 187.20 C70.47 187.17 71.13 187.15 71.80 187.13 C72.47 187.12 73.13 187.10 73.80 187.10 C74.47 187.09 75.13 187.08 75.80 187.08 C76.47 187.08 77.13 187.09 77.80 187.10 C78.47 187.11 79.13 187.12 79.80 187.13 C80.47 187.15 81.13 187.17 81.80 187.20 C82.47 187.23 83.13 187.26 83.80 187.31 C84.47 187.36 85.13 187.42 85.80 187.49 C86.47 187.56 87.13 187.63 87.80 187.71 C88.47 187.79 89.13 187.88 89.80 187.97 C90.47 188.06 91.13 188.16 91.80 188.24 C92.47 188.32 93.13 188.40 93.80 188.47 C94.47 188.53 95.13 188.58 95.80 188.63 C96.47 188.68 97.13 188.71 97.80 188.76 C98.47 188.81 99.13 188.87 99.80 188.92 C100.47 188.98 101.13 189.05 101.80 189.12 C102.47 189.19 103.13 189.25 103.80 189.34 C104.47 189.43 105.13 189.53 105.80 189.67 C106.47 189.80 107.13 189.97 107.80 190.14 C108.47 190.32 109.13 190.53 109.80 190.72 C110.47 190.92 111.13 191.14 111.80 191.33 C112.47 191.52 113.13 191.72 113.80 191.89 C114.47 192.06 115.13 192.25 115.80 192.36 C116.47 192.47 117.13 192.56 117.80 192.53 C118.47 192.51 119.13 192.38 119.80 192.22 C120.47 192.05 121.13 191.80 121.80 191.55 C122.47 191.30 123.13 191.00 123.80 190.71 C124.47 190.41 125.13 190.10 125.80 189.78 C126.47 189.46 127.13 189.12 127.80 188.79 C128.47 188.46 129.13 188.10 129.80 187.79 C130.47 187.47 131.13 187.16 131.80 186.88 C132.47 186.59 133.13 186.34 133.80 186.07 C134.47 185.81 135.13 185.55 135.80 185.28 C136.47 185.02 137.13 184.76 137.80 184.48 C138.47 184.20 139.13 183.92 139.80 183.60 C140.47 183.27 141.13 182.92 141.80 182.53 C142.47 182.14 143.13 181.72 143.80 181.26 C144.47 180.80 145.13 180.32 145.80 179.77 C146.47 179.22 147.13 178.61 147.80 177.94 C148.47 177.28 149.13 176.53 149.80 175.80 C150.47 175.06 151.13 174.30 151.80 173.52 C152.47 172.74 153.13 171.95 153.80 171.12 C154.47 170.30 155.13 169.44 155.80 168.57 C156.47 167.70 157.13 166.80 157.80 165.90 C158.47 165.00 159.13 164.09 159.80 163.18 C160.47 162.28 161.13 161.35 161.80 160.46 C162.47 159.57 163.13 158.68 163.80 157.86 C164.47 157.04 165.13 156.26 165.80 155.54 C166.47 154.82 167.13 154.14 167.80 153.52 C168.47 152.89 169.13 152.31 169.80 151.78 C170.47 151.25 171.13 150.73 171.80 150.33 C172.47 149.92 173.13 149.55 173.80 149.34 C174.47 149.14 175.13 149.07 175.80 149.09 C176.47 149.11 177.13 149.29 177.80 149.49 C178.47 149.69 179.13 149.95 179.80 150.29 C180.47 150.64 181.13 151.07 181.80 151.57 C182.47 152.07 183.13 152.68 183.80 153.32 C184.47 153.96 185.13 154.66 185.80 155.40 C186.47 156.14 187.13 156.95 187.80 157.78 C188.47 158.61 189.13 159.49 189.80 160.38 C190.47 161.28 191.13 162.22 191.80 163.16 C192.47 164.11 193.13 165.10 193.80 166.05 C194.47 167.01 195.13 167.96 195.80 168.89 C196.47 169.82 197.13 170.75 197.80 171.63 C198.47 172.52 199.13 173.38 199.80 174.19 C200.47 174.99 201.13 175.74 201.80 176.45 C202.47 177.16 203.13 177.82 203.80 178.44 C204.47 179.05 205.13 179.62 205.80 180.15 C206.47 180.67 207.13 181.15 207.80 181.59 C208.47 182.03 209.13 182.43 209.80 182.80 C210.47 183.17 211.13 183.50 211.80 183.81 C212.47 184.12 213.13 184.39 213.80 184.66 C214.47 184.94 215.13 185.20 215.80 185.47 C216.47 185.74 217.13 186.01 217.80 186.28 C218.47 186.54 219.13 186.80 219.80 187.07 C220.47 187.33 221.13 187.60 221.80 187.86 C222.47 188.13 223.13 188.39 223.80 188.66 C224.47 188.93 225.13 189.21 225.80 189.49 C226.47 189.77 227.13 190.06 227.80 190.35 C228.47 190.64 229.13 190.95 229.80 191.22 C230.47 191.48 231.13 191.80 231.80 191.94 C232.47 192.07 233.13 192.10 233.80 192.03 C234.47 191.96 235.13 191.71 235.80 191.53 C236.47 191.36 237.13 191.15 237.80 190.98 C238.47 190.80 239.13 190.62 239.80 190.45 C240.47 190.29 241.13 190.13 241.80 189.99 C242.47 189.84 243.13 189.70 243.80 189.58 C244.47 189.46 245.13 189.35 245.80 189.26 C246.47 189.17 247.13 189.11 247.80 189.05 C248.47 189.00 249.13 188.96 249.80 188.92 C250.47 188.88 251.13 188.85 251.80 188.80 C252.47 188.76 253.13 188.72 253.80 188.66 C254.47 188.60 255.13 188.54 255.80 188.46 C256.47 188.39 257.13 188.30 257.80 188.21 C258.47 188.13 259.13 188.03 259.80 187.94 C260.47 187.86 261.13 187.77 261.80 187.69 C262.47 187.62 263.13 187.54 263.80 187.48 C264.47 187.41 265.13 187.35 265.80 187.30 C266.47 187.25 267.13 187.22 267.80 187.19 C268.47 187.16 269.13 187.13 269.80 187.12 C270.47 187.11 271.13 187.11 271.80 187.12 C272.47 187.12 273.13 187.14 273.80 187.16 C274.47 187.19 275.13 187.22 275.80 187.25 C276.47 187.28 277.13 187.32 277.80 187.36 C278.47 187.40 279.13 187.44 279.80 187.49 C280.47 187.54 281.13 187.60 281.80 187.68 C282.47 187.75 283.13 187.84 283.80 187.93 C284.47 188.02 285.13 188.12 285.80 188.21 C286.47 188.30 287.13 188.40 287.80 188.49 C288.47 188.58 289.13 188.68 289.80 188.76 C290.47 188.84 291.13 188.92 291.80 188.98 C292.47 189.04 293.13 189.08 293.80 189.13 C294.47 189.17 295.13 189.21 295.80 189.25 C296.47 189.29 297.13 189.34 297.80 189.38 C298.47 189.42 299.13 189.47 299.80 189.51 C300.47 189.56 301.13 189.60 301.80 189.64 C302.47 189.68 303.13 189.72 303.80 189.76 C304.47 189.81 305.13 189.85 305.80 189.91 C306.47 189.97 307.13 190.04 307.80 190.12 C308.47 190.20 309.13 190.29 309.80 190.39 C310.47 190.48 311.13 190.58 311.80 190.69 C312.47 190.80 313.23 190.94 313.80 191.04 C314.37 191.14 314.97 191.25 315.20 191.30" fill="none" stroke="#3c3cff" stroke-width="1.00"/>
<path d="M33.80 147.95 V193.90 H315.95" fill="none" stroke="#222" stroke-width="1.50"/>
<path d="M33.80 193.90 V190.10 M61.94 193.90 V190.10 M90.08 193.90 V190.10 M118.22 193.90 V190.10 M146.36 193.90 V190.10 M174.50 193.90 V190.10 M202.64 193.90 V190.10 M230.78 193.90 V190.10 M258.92 193.90 V190.10 M287.06 193.90 V190.10 M315.20 193.90 V190.10 M33.80 171.30 H36.80 M33.80 148.70 H36.80" fill="none" stroke="#222" stroke-width="1"/>
<text x="33.80" y="204.50" font-family="Liberation Sans, sans-serif" font-size="8.50" fill="#111" text-anchor="middle">1.54</text>
<text x="61.94" y="204.50" font-family="Liberation Sans, sans-serif" font-size="8.50" fill="#111" text-anchor="middle">1.542</text>
<text x="90.08" y="204.50" font-family="Liberation Sans, sans-serif" font-size="8.50" fill="#111" text-anchor="middle">1.544</text>
<text x="118.22" y="204.50" font-family="Liberation Sans, sans-serif" font-size="8.50" fill="#111" text-anchor="middle">1.546</text>
<text x="146.36" y="204.50" font-family="Liberation Sans, sans-serif" font-size="8.50" fill="#111" text-anchor="middle">1.548</text>
<text x="174.50" y="204.50" font-family="Liberation Sans, sans-serif" font-size="8.50" fill="#111" text-anchor="middle">1.55</text>
<text x="202.64" y="204.50" font-family="Liberation Sans, sans-serif" font-size="8.50" fill="#111" text-anchor="middle">1.552</text>
<text x="230.78" y="204.50" font-family="Liberation Sans, sans-serif" font-size="8.50" fill="#111" text-anchor="middle">1.554</text>
<text x="258.92" y="204.50" font-family="Liberation Sans, sans-serif" font-size="8.50" fill="#111" text-anchor="middle">1.556</text>
<text x="287.06" y="204.50" font-family="Liberation Sans, sans-serif" font-size="8.50" fill="#111" text-anchor="middle">1.558</text>
<text x="315.20" y="204.50" font-family="Liberation Sans, sans-serif" font-size="8.50" fill="#111" text-anchor="middle">1.56</text>
<text x="28.80" y="196.60" font-family="Liberation Sans, sans-serif" font-size="8.70" fill="#111" text-anchor="end">0</text>
<text x="28.80" y="174.00" font-family="Liberation Sans, sans-serif" font-size="8.70" fill="#111" text-anchor="end">0.5</text>
<text x="28.80" y="151.40" font-family="Liberation Sans, sans-serif" font-size="8.70" fill="#111" text-anchor="end">1</text>
<text x="57.90" y="172.95" font-family="Liberation Sans, sans-serif" font-size="8.60" fill="#111">(iii)</text>
<path d="M33.80 256.64 C34.13 256.66 35.13 256.71 35.80 256.75 C36.47 256.79 37.13 256.83 37.80 256.87 C38.47 256.90 39.13 256.94 39.80 256.98 C40.47 257.02 41.13 257.06 41.80 257.10 C42.47 257.14 43.13 257.18 43.80 257.21 C44.47 257.24 45.13 257.27 45.80 257.28 C46.47 257.30 47.13 257.30 47.80 257.30 C48.47 257.30 49.13 257.28 49.80 257.26 C50.47 257.24 51.13 257.22 51.80 257.19 C52.47 257.17 53.13 257.14 53.80 257.10 C54.47 257.07 55.13 257.03 55.80 256.99 C56.47 256.95 57.13 256.90 57.80 256.88 C58.47 256.85 59.13 256.83 59.80 256.83 C60.47 256.83 61.13 256.85 61.80 256.87 C62.47 256.90 63.13 256.94 63.80 256.98 C64.47 257.02 65.13 257.06 65.80 257.10 C66.47 257.13 67.13 257.16 67.80 257.19 C68.47 257.22 69.13 257.25 69.80 257.27 C70.47 257.29 71.13 257.31 71.80 257.31 C72.47 257.31 73.13 257.30 73.80 257.27 C74.47 257.24 75.13 257.19 75.80 257.14 C76.47 257.09 77.13 257.03 77.80 256.97 C78.47 256.92 79.13 256.87 79.80 256.83 C80.47 256.79 81.13 256.76 81.80 256.73 C82.47 256.71 83.13 256.69 83.80 256.67 C84.47 256.66 85.13 256.65 85.80 256.65 C86.47 256.64 87.13 256.65 87.80 256.66 C88.47 256.67 89.13 256.69 89.80 256.71 C90.47 256.73 91.13 256.76 91.80 256.77 C92.47 256.79 93.13 256.80 93.80 256.80 C94.47 256.80 95.13 256.78 95.80 256.77 C96.47 256.76 97.13 256.74 97.80 256.72 C98.47 256.70 99.13 256.67 99.80 256.65 C100.47 256.62 101.13 256.59 101.80 256.55 C102.47 256.52 103.13 256.48 103.80 256.45 C104.47 256.42 105.13 256.40 105.80 256.39 C106.47 256.37 107.13 256.36 107.80 256.35 C108.47 256.34 109.13 256.33 109.80 256.32 C110.47 256.30 111.13 256.27 111.80 256.24 C112.47 256.21 113.13 256.17 113.80 256.14 C114.47 256.10 115.13 256.06 115.80 256.04 C116.47 256.01 117.13 255.98 117.80 255.96 C118.47 255.95 119.13 255.93 119.80 255.93 C120.47 255.93 121.13 255.94 121.80 255.96 C122.47 255.99 123.13 256.04 123.80 256.09 C124.47 256.13 125.13 256.24 125.80 256.25 C126.47 256.25 127.13 256.26 127.80 256.13 C128.47 256.00 129.13 255.74 129.80 255.46 C130.47 255.17 131.13 254.79 131.80 254.43 C132.47 254.07 133.13 253.67 133.80 253.29 C134.47 252.91 135.13 252.53 135.80 252.17 C136.47 251.80 137.13 251.45 137.80 251.11 C138.47 250.77 139.13 250.44 139.80 250.13 C140.47 249.82 141.13 249.53 141.80 249.25 C142.47 248.98 143.13 248.76 143.80 248.48 C144.47 248.20 145.13 247.94 145.80 247.59 C146.47 247.25 147.13 246.87 147.80 246.40 C148.47 245.93 149.13 245.41 149.80 244.78 C150.47 244.15 151.13 243.41 151.80 242.60 C152.47 241.79 153.13 240.87 153.80 239.91 C154.47 238.95 155.13 237.89 155.80 236.82 C156.47 235.74 157.13 234.59 157.80 233.47 C158.47 232.34 159.13 231.20 159.80 230.06 C160.47 228.92 161.13 227.76 161.80 226.65 C162.47 225.54 163.13 224.43 163.80 223.39 C164.47 222.36 165.13 221.38 165.80 220.47 C166.47 219.55 167.13 218.68 167.80 217.90 C168.47 217.11 169.13 216.40 169.80 215.77 C170.47 215.15 171.13 214.59 171.80 214.14 C172.47 213.68 173.13 213.28 173.80 213.05 C174.47 212.82 175.13 212.71 175.80 212.77 C176.47 212.84 177.13 213.08 177.80 213.44 C178.47 213.79 179.13 214.28 179.80 214.90 C180.47 215.52 181.13 216.30 181.80 217.15 C182.47 217.99 183.13 218.98 183.80 219.99 C184.47 221.00 185.13 222.07 185.80 223.21 C186.47 224.34 187.13 225.58 187.80 226.80 C188.47 228.02 189.13 229.31 189.80 230.55 C190.47 231.79 191.13 233.03 191.80 234.25 C192.47 235.48 193.13 236.70 193.80 237.92 C194.47 239.14 195.13 240.34 195.80 241.55 C196.47 242.75 197.13 243.91 197.80 245.15 C198.47 246.40 199.13 247.71 199.80 249.00 C200.47 250.29 201.13 251.84 201.80 252.89 C202.47 253.95 203.13 254.77 203.80 255.35 C204.47 255.92 205.13 256.12 205.80 256.33 C206.47 256.55 207.13 256.60 207.80 256.63 C208.47 256.67 209.13 256.59 209.80 256.54 C210.47 256.49 211.13 256.39 211.80 256.33 C212.47 256.26 213.13 256.20 213.80 256.15 C214.47 256.10 215.13 256.04 215.80 256.02 C216.47 256.00 217.13 256.00 217.80 256.02 C218.47 256.04 219.13 256.10 219.80 256.14 C220.47 256.19 221.13 256.24 221.80 256.28 C222.47 256.32 223.13 256.36 223.80 256.37 C224.47 256.38 225.13 256.40 225.80 256.35 C226.47 256.31 227.13 256.22 227.80 256.08 C228.47 255.94 229.13 255.70 229.80 255.54 C230.47 255.37 231.13 255.17 231.80 255.08 C232.47 254.99 233.13 254.97 233.80 254.99 C234.47 255.00 235.13 255.08 235.80 255.15 C236.47 255.22 237.13 255.30 237.80 255.38 C238.47 255.46 239.13 255.55 239.80 255.64 C240.47 255.73 241.13 255.83 241.80 255.92 C242.47 256.01 243.13 256.11 243.80 256.20 C244.47 256.29 245.13 256.39 245.80 256.48 C246.47 256.57 247.13 256.67 247.80 256.74 C248.47 256.81 249.13 256.87 249.80 256.90 C250.47 256.93 251.13 256.93 251.80 256.91 C252.47 256.89 253.13 256.83 253.80 256.77 C254.47 256.71 255.13 256.62 255.80 256.56 C256.47 256.49 257.13 256.43 257.80 256.39 C258.47 256.35 259.13 256.33 259.80 256.32 C260.47 256.32 261.13 256.34 261.80 256.36 C262.47 256.39 263.13 256.44 263.80 256.48 C264.47 256.52 265.13 256.57 265.80 256.62 C266.47 256.66 267.13 256.71 267.80 256.76 C268.47 256.81 269.13 256.87 269.80 256.92 C270.47 256.97 271.13 257.03 271.80 257.07 C272.47 257.11 273.13 257.15 273.80 257.18 C274.47 257.21 275.13 257.24 275.80 257.26 C276.47 257.28 277.13 257.30 277.80 257.30 C278.47 257.31 279.13 257.30 279.80 257.29 C280.47 257.27 281.13 257.24 281.80 257.21 C282.47 257.17 283.13 257.12 283.80 257.09 C284.47 257.05 285.13 257.02 285.80 257.00 C286.47 256.98 287.13 256.98 287.80 256.99 C288.47 256.99 289.13 257.02 289.80 257.04 C290.47 257.05 291.13 257.08 291.80 257.10 C292.47 257.12 293.13 257.14 293.80 257.17 C294.47 257.19 295.13 257.21 295.80 257.23 C296.47 257.25 297.13 257.27 297.80 257.28 C298.47 257.29 299.13 257.30 299.80 257.30 C300.47 257.30 301.13 257.29 301.80 257.28 C302.47 257.26 303.13 257.24 303.80 257.22 C304.47 257.20 305.13 257.18 305.80 257.16 C306.47 257.14 307.13 257.12 307.80 257.10 C308.47 257.08 309.13 257.07 309.80 257.04 C310.47 257.01 311.13 256.98 311.80 256.94 C312.47 256.89 313.23 256.82 313.80 256.77 C314.37 256.72 314.97 256.66 315.20 256.64" fill="none" stroke="#ff3434" stroke-width="1.00" stroke-dasharray="5.3 2.4 1.2 2.4"/>
<path d="M33.80 255.46 C34.13 255.51 35.13 255.67 35.80 255.76 C36.47 255.86 37.13 255.96 37.80 256.05 C38.47 256.14 39.13 256.23 39.80 256.30 C40.47 256.38 41.13 256.44 41.80 256.50 C42.47 256.56 43.13 256.61 43.80 256.66 C44.47 256.70 45.13 256.74 45.80 256.77 C46.47 256.80 47.13 256.82 47.80 256.84 C48.47 256.85 49.13 256.86 49.80 256.86 C50.47 256.86 51.13 256.85 51.80 256.84 C52.47 256.82 53.13 256.80 53.80 256.77 C54.47 256.74 55.13 256.70 55.80 256.65 C56.47 256.60 57.13 256.55 57.80 256.49 C58.47 256.43 59.13 256.37 59.80 256.30 C60.47 256.23 61.13 256.16 61.80 256.08 C62.47 256.00 63.13 255.91 63.80 255.82 C64.47 255.74 65.13 255.65 65.80 255.56 C66.47 255.47 67.13 255.39 67.80 255.30 C68.47 255.21 69.13 255.12 69.80 255.03 C70.47 254.95 71.13 254.86 71.80 254.78 C72.47 254.71 73.13 254.65 73.80 254.59 C74.47 254.54 75.13 254.49 75.80 254.45 C76.47 254.42 77.13 254.39 77.80 254.36 C78.47 254.33 79.13 254.31 79.80 254.30 C80.47 254.28 81.13 254.27 81.80 254.27 C82.47 254.26 83.13 254.26 83.80 254.26 C84.47 254.27 85.13 254.27 85.80 254.28 C86.47 254.29 87.13 254.30 87.80 254.32 C88.47 254.34 89.13 254.37 89.80 254.39 C90.47 254.41 91.13 254.44 91.80 254.44 C92.47 254.45 93.13 254.45 93.80 254.43 C94.47 254.41 95.13 254.37 95.80 254.32 C96.47 254.28 97.13 254.22 97.80 254.16 C98.47 254.10 99.13 254.04 99.80 253.98 C100.47 253.92 101.13 253.85 101.80 253.79 C102.47 253.72 103.13 253.65 103.80 253.59 C104.47 253.53 105.13 253.48 105.80 253.44 C106.47 253.40 107.13 253.37 107.80 253.35 C108.47 253.33 109.13 253.31 109.80 253.30 C110.47 253.29 111.13 253.28 111.80 253.28 C112.47 253.28 113.13 253.28 113.80 253.29 C114.47 253.30 115.13 253.30 115.80 253.34 C116.47 253.37 117.13 253.40 117.80 253.48 C118.47 253.55 119.13 253.65 119.80 253.79 C120.47 253.92 121.13 254.09 121.80 254.27 C122.47 254.45 123.13 254.66 123.80 254.87 C124.47 255.08 125.13 255.31 125.80 255.54 C126.47 255.76 127.13 256.03 127.80 256.21 C128.47 256.40 129.13 256.58 129.80 256.66 C130.47 256.74 131.13 256.73 131.80 256.69 C132.47 256.64 133.13 256.52 133.80 256.40 C134.47 256.28 135.13 256.12 135.80 255.95 C136.47 255.78 137.13 255.58 137.80 255.36 C138.47 255.13 139.13 254.89 139.80 254.61 C140.47 254.33 141.13 254.02 141.80 253.67 C142.47 253.32 143.13 252.94 143.80 252.51 C144.47 252.08 145.13 251.62 145.80 251.09 C146.47 250.57 147.13 250.00 147.80 249.36 C148.47 248.72 149.13 248.03 149.80 247.27 C150.47 246.51 151.13 245.71 151.80 244.81 C152.47 243.92 153.13 242.95 153.80 241.92 C154.47 240.89 155.13 239.76 155.80 238.62 C156.47 237.49 157.13 236.30 157.80 235.10 C158.47 233.90 159.13 232.65 159.80 231.43 C160.47 230.21 161.13 228.95 161.80 227.77 C162.47 226.60 163.13 225.46 163.80 224.38 C164.47 223.30 165.13 222.26 165.80 221.29 C166.47 220.33 167.13 219.41 167.80 218.58 C168.47 217.74 169.13 216.97 169.80 216.28 C170.47 215.58 171.13 214.92 171.80 214.39 C172.47 213.87 173.13 213.38 173.80 213.13 C174.47 212.87 175.13 212.79 175.80 212.85 C176.47 212.90 177.13 213.15 177.80 213.46 C178.47 213.76 179.13 214.16 179.80 214.70 C180.47 215.24 181.13 215.91 181.80 216.67 C182.47 217.44 183.13 218.36 183.80 219.29 C184.47 220.22 185.13 221.20 185.80 222.24 C186.47 223.28 187.13 224.39 187.80 225.51 C188.47 226.62 189.13 227.79 189.80 228.93 C190.47 230.06 191.13 231.20 191.80 232.32 C192.47 233.44 193.13 234.56 193.80 235.66 C194.47 236.75 195.13 237.83 195.80 238.88 C196.47 239.93 197.13 240.97 197.80 241.97 C198.47 242.96 199.13 243.93 199.80 244.85 C200.47 245.77 201.13 246.65 201.80 247.48 C202.47 248.30 203.13 249.10 203.80 249.80 C204.47 250.50 205.13 251.13 205.80 251.67 C206.47 252.22 207.13 252.66 207.80 253.05 C208.47 253.45 209.13 253.77 209.80 254.06 C210.47 254.34 211.13 254.57 211.80 254.76 C212.47 254.95 213.13 255.08 213.80 255.21 C214.47 255.34 215.13 255.44 215.80 255.54 C216.47 255.63 217.13 255.72 217.80 255.79 C218.47 255.85 219.13 255.90 219.80 255.93 C220.47 255.95 221.13 255.96 221.80 255.94 C222.47 255.92 223.13 255.88 223.80 255.80 C224.47 255.73 225.13 255.63 225.80 255.50 C226.47 255.36 227.13 255.16 227.80 254.99 C228.47 254.82 229.13 254.61 229.80 254.45 C230.47 254.29 231.13 254.16 231.80 254.05 C232.47 253.93 233.13 253.84 233.80 253.77 C234.47 253.70 235.13 253.65 235.80 253.63 C236.47 253.61 237.13 253.62 237.80 253.64 C238.47 253.66 239.13 253.70 239.80 253.75 C240.47 253.80 241.13 253.86 241.80 253.92 C242.47 253.99 243.13 254.07 243.80 254.13 C244.47 254.19 245.13 254.25 245.80 254.28 C246.47 254.31 247.13 254.31 247.80 254.31 C248.47 254.32 249.13 254.31 249.80 254.30 C250.47 254.30 251.13 254.30 251.80 254.29 C252.47 254.28 253.13 254.27 253.80 254.25 C254.47 254.22 255.13 254.19 255.80 254.15 C256.47 254.12 257.13 254.08 257.80 254.04 C258.47 254.01 259.13 253.97 259.80 253.93 C260.47 253.89 261.13 253.85 261.80 253.81 C262.47 253.78 263.13 253.73 263.80 253.70 C264.47 253.67 265.13 253.65 265.80 253.64 C266.47 253.62 267.13 253.62 267.80 253.62 C268.47 253.63 269.13 253.65 269.80 253.66 C270.47 253.68 271.13 253.71 271.80 253.74 C272.47 253.77 273.13 253.80 273.80 253.84 C274.47 253.87 275.13 253.91 275.80 253.95 C276.47 254.00 277.13 254.05 277.80 254.11 C278.47 254.18 279.13 254.25 279.80 254.34 C280.47 254.43 281.13 254.53 281.80 254.64 C282.47 254.75 283.13 254.88 283.80 255.00 C284.47 255.13 285.13 255.25 285.80 255.38 C286.47 255.50 287.13 255.62 287.80 255.74 C288.47 255.85 289.13 255.97 289.80 256.07 C290.47 256.17 291.13 256.27 291.80 256.34 C292.47 256.41 293.13 256.46 293.80 256.50 C294.47 256.55 295.13 256.58 295.80 256.61 C296.47 256.65 297.13 256.68 297.80 256.70 C298.47 256.73 299.13 256.76 299.80 256.77 C300.47 256.79 301.13 256.80 301.80 256.79 C302.47 256.79 303.13 256.77 303.80 256.75 C304.47 256.73 305.13 256.70 305.80 256.66 C306.47 256.63 307.13 256.59 307.80 256.55 C308.47 256.51 309.13 256.47 309.80 256.42 C310.47 256.37 311.13 256.32 311.80 256.27 C312.47 256.21 313.23 256.15 313.80 256.10 C314.37 256.04 314.97 255.99 315.20 255.97" fill="none" stroke="#3c3cff" stroke-width="1.00"/>
<path d="M33.80 211.95 V257.90 H315.95" fill="none" stroke="#222" stroke-width="1.50"/>
<path d="M33.80 257.90 V254.10 M61.94 257.90 V254.10 M90.08 257.90 V254.10 M118.22 257.90 V254.10 M146.36 257.90 V254.10 M174.50 257.90 V254.10 M202.64 257.90 V254.10 M230.78 257.90 V254.10 M258.92 257.90 V254.10 M287.06 257.90 V254.10 M315.20 257.90 V254.10 M33.80 235.30 H36.80 M33.80 212.70 H36.80" fill="none" stroke="#222" stroke-width="1"/>
<text x="33.80" y="268.50" font-family="Liberation Sans, sans-serif" font-size="8.50" fill="#111" text-anchor="middle">1.54</text>
<text x="61.94" y="268.50" font-family="Liberation Sans, sans-serif" font-size="8.50" fill="#111" text-anchor="middle">1.542</text>
<text x="90.08" y="268.50" font-family="Liberation Sans, sans-serif" font-size="8.50" fill="#111" text-anchor="middle">1.544</text>
<text x="118.22" y="268.50" font-family="Liberation Sans, sans-serif" font-size="8.50" fill="#111" text-anchor="middle">1.546</text>
<text x="146.36" y="268.50" font-family="Liberation Sans, sans-serif" font-size="8.50" fill="#111" text-anchor="middle">1.548</text>
<text x="174.50" y="268.50" font-family="Liberation Sans, sans-serif" font-size="8.50" fill="#111" text-anchor="middle">1.55</text>
<text x="202.64" y="268.50" font-family="Liberation Sans, sans-serif" font-size="8.50" fill="#111" text-anchor="middle">1.552</text>
<text x="230.78" y="268.50" font-family="Liberation Sans, sans-serif" font-size="8.50" fill="#111" text-anchor="middle">1.554</text>
<text x="258.92" y="268.50" font-family="Liberation Sans, sans-serif" font-size="8.50" fill="#111" text-anchor="middle">1.556</text>
<text x="287.06" y="268.50" font-family="Liberation Sans, sans-serif" font-size="8.50" fill="#111" text-anchor="middle">1.558</text>
<text x="315.20" y="268.50" font-family="Liberation Sans, sans-serif" font-size="8.50" fill="#111" text-anchor="middle">1.56</text>
<text x="28.80" y="260.60" font-family="Liberation Sans, sans-serif" font-size="8.70" fill="#111" text-anchor="end">0</text>
<text x="28.80" y="238.00" font-family="Liberation Sans, sans-serif" font-size="8.70" fill="#111" text-anchor="end">0.5</text>
<text x="28.80" y="215.40" font-family="Liberation Sans, sans-serif" font-size="8.70" fill="#111" text-anchor="end">1</text>
<text x="56.70" y="238.20" font-family="Liberation Sans, sans-serif" font-size="8.60" fill="#111">(iv)</text>
<path d="M374.40 59.27 C374.73 59.16 375.73 58.85 376.40 58.63 C377.07 58.42 377.73 58.21 378.40 57.99 C379.07 57.78 379.73 57.57 380.40 57.35 C381.07 57.14 381.73 56.92 382.40 56.70 C383.07 56.49 383.73 56.27 384.40 56.06 C385.07 55.84 385.73 55.62 386.40 55.41 C387.07 55.19 387.73 54.97 388.40 54.76 C389.07 54.54 389.73 54.32 390.40 54.10 C391.07 53.88 391.73 53.66 392.40 53.44 C393.07 53.22 393.73 52.99 394.40 52.77 C395.07 52.54 395.73 52.32 396.40 52.09 C397.07 51.86 397.73 51.63 398.40 51.41 C399.07 51.18 399.73 50.95 400.40 50.73 C401.07 50.50 401.73 50.28 402.40 50.06 C403.07 49.83 403.73 49.61 404.40 49.39 C405.07 49.17 405.73 48.96 406.40 48.74 C407.07 48.52 407.73 48.31 408.40 48.09 C409.07 47.87 409.73 47.65 410.40 47.43 C411.07 47.21 411.73 46.99 412.40 46.77 C413.07 46.55 413.73 46.33 414.40 46.10 C415.07 45.88 415.73 45.65 416.40 45.43 C417.07 45.20 417.73 44.97 418.40 44.74 C419.07 44.52 419.73 44.29 420.40 44.06 C421.07 43.84 421.73 43.61 422.40 43.39 C423.07 43.16 423.73 42.94 424.40 42.71 C425.07 42.49 425.73 42.26 426.40 42.03 C427.07 41.80 427.73 41.57 428.40 41.33 C429.07 41.10 429.73 40.86 430.40 40.63 C431.07 40.39 431.73 40.15 432.40 39.92 C433.07 39.69 433.73 39.46 434.40 39.24 C435.07 39.01 435.73 38.79 436.40 38.58 C437.07 38.36 437.73 38.15 438.40 37.94 C439.07 37.72 439.73 37.52 440.40 37.31 C441.07 37.10 441.73 36.89 442.40 36.68 C443.07 36.47 443.73 36.25 444.40 36.04 C445.07 35.82 445.73 35.60 446.40 35.38 C447.07 35.16 447.73 34.94 448.40 34.71 C449.07 34.48 449.73 34.25 450.40 34.02 C451.07 33.79 451.73 33.55 452.40 33.31 C453.07 33.08 453.73 32.84 454.40 32.61 C455.07 32.37 455.73 32.14 456.40 31.91 C457.07 31.68 457.73 31.45 458.40 31.23 C459.07 31.01 459.73 30.79 460.40 30.57 C461.07 30.36 461.73 30.15 462.40 29.94 C463.07 29.74 463.73 29.54 464.40 29.34 C465.07 29.15 465.73 28.95 466.40 28.77 C467.07 28.58 467.73 28.40 468.40 28.22 C469.07 28.03 469.73 27.86 470.40 27.68 C471.07 27.51 471.73 27.34 472.40 27.17 C473.07 27.00 473.73 26.83 474.40 26.67 C475.07 26.50 475.73 26.34 476.40 26.18 C477.07 26.02 477.73 25.87 478.40 25.71 C479.07 25.56 479.73 25.40 480.40 25.25 C481.07 25.10 481.73 24.96 482.40 24.81 C483.07 24.67 483.73 24.53 484.40 24.39 C485.07 24.25 485.73 24.11 486.40 23.98 C487.07 23.85 487.73 23.72 488.40 23.59 C489.07 23.47 489.73 23.35 490.40 23.23 C491.07 23.12 491.73 23.00 492.40 22.90 C493.07 22.79 493.73 22.69 494.40 22.60 C495.07 22.50 495.73 22.41 496.40 22.32 C497.07 22.24 497.73 22.15 498.40 22.08 C499.07 22.00 499.73 21.93 500.40 21.86 C501.07 21.79 501.73 21.72 502.40 21.66 C503.07 21.60 503.73 21.54 504.40 21.48 C505.07 21.43 505.73 21.37 506.40 21.32 C507.07 21.27 507.73 21.22 508.40 21.17 C509.07 21.13 509.73 21.08 510.40 21.04 C511.07 21.00 511.73 20.96 512.40 20.92 C513.07 20.89 513.73 20.85 514.40 20.82 C515.07 20.79 515.73 20.76 516.40 20.73 C517.07 20.71 517.73 20.68 518.40 20.66 C519.07 20.64 519.73 20.62 520.40 20.61 C521.07 20.60 521.73 20.59 522.40 20.58 C523.07 20.58 523.73 20.58 524.40 20.58 C525.07 20.58 525.73 20.59 526.40 20.59 C527.07 20.60 527.73 20.61 528.40 20.62 C529.07 20.63 529.73 20.64 530.40 20.65 C531.07 20.66 531.73 20.67 532.40 20.69 C533.07 20.70 533.73 20.71 534.40 20.73 C535.07 20.74 535.73 20.76 536.40 20.78 C537.07 20.80 537.73 20.83 538.40 20.86 C539.07 20.89 539.73 20.92 540.40 20.96 C541.07 21.00 541.73 21.04 542.40 21.09 C543.07 21.14 543.73 21.19 544.40 21.25 C545.07 21.31 545.73 21.37 546.40 21.44 C547.07 21.50 547.73 21.58 548.40 21.65 C549.07 21.73 549.73 21.81 550.40 21.89 C551.07 21.98 551.73 22.06 552.40 22.15 C553.07 22.24 553.73 22.34 554.40 22.43 C555.07 22.53 555.73 22.63 556.40 22.73 C557.07 22.83 557.73 22.93 558.40 23.04 C559.07 23.15 559.73 23.25 560.40 23.37 C561.07 23.48 561.73 23.60 562.40 23.72 C563.07 23.84 563.73 23.97 564.40 24.10 C565.07 24.23 565.73 24.37 566.40 24.50 C567.07 24.64 567.73 24.78 568.40 24.92 C569.07 25.06 569.73 25.21 570.40 25.35 C571.07 25.49 571.73 25.63 572.40 25.77 C573.07 25.91 573.73 26.05 574.40 26.19 C575.07 26.33 575.73 26.47 576.40 26.62 C577.07 26.76 577.73 26.90 578.40 27.05 C579.07 27.20 579.73 27.35 580.40 27.51 C581.07 27.66 581.73 27.82 582.40 27.98 C583.07 28.14 583.73 28.30 584.40 28.46 C585.07 28.62 585.73 28.79 586.40 28.95 C587.07 29.11 587.73 29.27 588.40 29.43 C589.07 29.58 589.73 29.74 590.40 29.89 C591.07 30.05 591.73 30.20 592.40 30.35 C593.07 30.51 593.73 30.66 594.40 30.81 C595.07 30.96 595.73 31.12 596.40 31.27 C597.07 31.43 597.73 31.59 598.40 31.76 C599.07 31.92 599.73 32.09 600.40 32.27 C601.07 32.44 601.73 32.63 602.40 32.82 C603.07 33.01 603.73 33.20 604.40 33.40 C605.07 33.60 605.73 33.81 606.40 34.02 C607.07 34.23 607.73 34.45 608.40 34.66 C609.07 34.88 609.73 35.10 610.40 35.31 C611.07 35.53 611.73 35.75 612.40 35.96 C613.07 36.18 613.73 36.39 614.40 36.60 C615.07 36.82 615.73 37.03 616.40 37.25 C617.07 37.46 617.73 37.68 618.40 37.90 C619.07 38.12 619.73 38.34 620.40 38.57 C621.07 38.79 621.73 39.03 622.40 39.26 C623.07 39.50 623.73 39.74 624.40 39.98 C625.07 40.23 625.73 40.47 626.40 40.72 C627.07 40.96 627.73 41.21 628.40 41.46 C629.07 41.71 629.73 41.96 630.40 42.20 C631.07 42.45 631.73 42.69 632.40 42.93 C633.07 43.18 633.73 43.42 634.40 43.65 C635.07 43.89 635.73 44.12 636.40 44.35 C637.07 44.58 637.73 44.81 638.40 45.03 C639.07 45.25 639.73 45.47 640.40 45.69 C641.07 45.91 641.73 46.13 642.40 46.35 C643.07 46.56 643.73 46.78 644.40 47.00 C645.07 47.22 645.73 47.44 646.40 47.66 C647.07 47.88 647.73 48.10 648.40 48.33 C649.07 48.55 649.73 48.78 650.40 49.01 C651.07 49.23 651.73 49.46 652.40 49.69 C653.07 49.92 653.73 50.14 654.40 50.37 C655.07 50.60 655.73 50.82 656.40 51.05 C657.07 51.27 657.73 51.49 658.40 51.72 C659.07 51.94 659.73 52.17 660.40 52.39 C661.07 52.62 661.73 52.85 662.40 53.07 C663.07 53.30 663.73 53.53 664.40 53.76 C665.07 53.99 665.73 54.22 666.40 54.45 C667.07 54.67 667.73 54.90 668.40 55.12 C669.07 55.34 669.73 55.56 670.40 55.78 C671.07 56.00 671.73 56.22 672.40 56.43 C673.07 56.65 673.73 56.87 674.40 57.09 C675.07 57.30 675.73 57.52 676.40 57.74 C677.07 57.96 678.07 58.29 678.40 58.40" fill="none" stroke="#ff3434" stroke-width="1.00" stroke-dasharray="5.3 2.4 1.2 2.4"/>
<path d="M374.40 56.75 C374.73 56.66 375.73 56.40 376.40 56.22 C377.07 56.05 377.73 55.87 378.40 55.70 C379.07 55.52 379.73 55.35 380.40 55.18 C381.07 55.01 381.73 54.83 382.40 54.66 C383.07 54.49 383.73 54.32 384.40 54.15 C385.07 53.99 385.73 53.82 386.40 53.65 C387.07 53.48 387.73 53.32 388.40 53.15 C389.07 52.98 389.73 52.82 390.40 52.65 C391.07 52.49 391.73 52.32 392.40 52.15 C393.07 51.99 393.73 51.82 394.40 51.65 C395.07 51.49 395.73 51.32 396.40 51.15 C397.07 50.98 397.73 50.81 398.40 50.63 C399.07 50.46 399.73 50.28 400.40 50.10 C401.07 49.91 401.73 49.73 402.40 49.54 C403.07 49.35 403.73 49.16 404.40 48.97 C405.07 48.78 405.73 48.59 406.40 48.40 C407.07 48.20 407.73 48.01 408.40 47.82 C409.07 47.63 409.73 47.44 410.40 47.25 C411.07 47.06 411.73 46.87 412.40 46.68 C413.07 46.49 413.73 46.30 414.40 46.11 C415.07 45.92 415.73 45.72 416.40 45.53 C417.07 45.33 417.73 45.14 418.40 44.94 C419.07 44.74 419.73 44.54 420.40 44.34 C421.07 44.14 421.73 43.94 422.40 43.74 C423.07 43.54 423.73 43.34 424.40 43.14 C425.07 42.93 425.73 42.73 426.40 42.52 C427.07 42.32 427.73 42.11 428.40 41.90 C429.07 41.69 429.73 41.48 430.40 41.27 C431.07 41.06 431.73 40.85 432.40 40.64 C433.07 40.43 433.73 40.22 434.40 40.01 C435.07 39.80 435.73 39.59 436.40 39.39 C437.07 39.18 437.73 38.98 438.40 38.77 C439.07 38.56 439.73 38.36 440.40 38.15 C441.07 37.94 441.73 37.73 442.40 37.52 C443.07 37.31 443.73 37.10 444.40 36.89 C445.07 36.67 445.73 36.46 446.40 36.24 C447.07 36.03 447.73 35.81 448.40 35.59 C449.07 35.37 449.73 35.16 450.40 34.93 C451.07 34.71 451.73 34.49 452.40 34.27 C453.07 34.05 453.73 33.82 454.40 33.60 C455.07 33.38 455.73 33.15 456.40 32.94 C457.07 32.72 457.73 32.50 458.40 32.29 C459.07 32.07 459.73 31.87 460.40 31.66 C461.07 31.45 461.73 31.25 462.40 31.05 C463.07 30.85 463.73 30.65 464.40 30.45 C465.07 30.25 465.73 30.05 466.40 29.85 C467.07 29.65 467.73 29.46 468.40 29.26 C469.07 29.07 469.73 28.88 470.40 28.69 C471.07 28.49 471.73 28.31 472.40 28.12 C473.07 27.93 473.73 27.75 474.40 27.57 C475.07 27.39 475.73 27.21 476.40 27.03 C477.07 26.86 477.73 26.68 478.40 26.51 C479.07 26.34 479.73 26.17 480.40 26.01 C481.07 25.85 481.73 25.69 482.40 25.53 C483.07 25.38 483.73 25.23 484.40 25.08 C485.07 24.94 485.73 24.79 486.40 24.65 C487.07 24.52 487.73 24.38 488.40 24.25 C489.07 24.12 489.73 23.99 490.40 23.87 C491.07 23.74 491.73 23.62 492.40 23.50 C493.07 23.39 493.73 23.27 494.40 23.16 C495.07 23.05 495.73 22.94 496.40 22.84 C497.07 22.74 497.73 22.64 498.40 22.55 C499.07 22.45 499.73 22.36 500.40 22.28 C501.07 22.19 501.73 22.11 502.40 22.03 C503.07 21.95 503.73 21.87 504.40 21.80 C505.07 21.73 505.73 21.66 506.40 21.59 C507.07 21.53 507.73 21.46 508.40 21.41 C509.07 21.35 509.73 21.29 510.40 21.24 C511.07 21.19 511.73 21.15 512.40 21.11 C513.07 21.06 513.73 21.03 514.40 20.99 C515.07 20.96 515.73 20.93 516.40 20.90 C517.07 20.87 517.73 20.85 518.40 20.83 C519.07 20.81 519.73 20.79 520.40 20.77 C521.07 20.75 521.73 20.74 522.40 20.72 C523.07 20.71 523.73 20.69 524.40 20.68 C525.07 20.67 525.73 20.66 526.40 20.65 C527.07 20.63 527.73 20.62 528.40 20.61 C529.07 20.60 529.73 20.59 530.40 20.59 C531.07 20.58 531.73 20.58 532.40 20.57 C533.07 20.57 533.73 20.58 534.40 20.58 C535.07 20.59 535.73 20.60 536.40 20.62 C537.07 20.63 537.73 20.65 538.40 20.67 C539.07 20.69 539.73 20.72 540.40 20.74 C541.07 20.77 541.73 20.80 542.40 20.83 C543.07 20.87 543.73 20.90 544.40 20.94 C545.07 20.98 545.73 21.02 546.40 21.06 C547.07 21.10 547.73 21.15 548.40 21.19 C549.07 21.24 549.73 21.29 550.40 21.34 C551.07 21.40 551.73 21.45 552.40 21.51 C553.07 21.56 553.73 21.62 554.40 21.68 C555.07 21.74 555.73 21.81 556.40 21.87 C557.07 21.94 557.73 22.00 558.40 22.07 C559.07 22.13 559.73 22.20 560.40 22.26 C561.07 22.33 561.73 22.39 562.40 22.46 C563.07 22.53 563.73 22.59 564.40 22.66 C565.07 22.73 565.73 22.80 566.40 22.88 C567.07 22.95 567.73 23.03 568.40 23.11 C569.07 23.20 569.73 23.28 570.40 23.37 C571.07 23.47 571.73 23.56 572.40 23.66 C573.07 23.76 573.73 23.87 574.40 23.98 C575.07 24.09 575.73 24.20 576.40 24.32 C577.07 24.44 577.73 24.56 578.40 24.68 C579.07 24.81 579.73 24.94 580.40 25.06 C581.07 25.19 581.73 25.32 582.40 25.46 C583.07 25.59 583.73 25.73 584.40 25.86 C585.07 26.00 585.73 26.14 586.40 26.28 C587.07 26.42 587.73 26.57 588.40 26.72 C589.07 26.87 589.73 27.02 590.40 27.17 C591.07 27.32 591.73 27.47 592.40 27.63 C593.07 27.78 593.73 27.93 594.40 28.09 C595.07 28.25 595.73 28.40 596.40 28.56 C597.07 28.72 597.73 28.88 598.40 29.04 C599.07 29.21 599.73 29.37 600.40 29.54 C601.07 29.70 601.73 29.87 602.40 30.05 C603.07 30.22 603.73 30.39 604.40 30.56 C605.07 30.74 605.73 30.91 606.40 31.09 C607.07 31.26 607.73 31.44 608.40 31.61 C609.07 31.79 609.73 31.96 610.40 32.14 C611.07 32.31 611.73 32.49 612.40 32.67 C613.07 32.85 613.73 33.03 614.40 33.21 C615.07 33.39 615.73 33.57 616.40 33.75 C617.07 33.93 617.73 34.12 618.40 34.30 C619.07 34.48 619.73 34.66 620.40 34.84 C621.07 35.02 621.73 35.20 622.40 35.38 C623.07 35.56 623.73 35.74 624.40 35.92 C625.07 36.10 625.73 36.28 626.40 36.47 C627.07 36.65 627.73 36.83 628.40 37.02 C629.07 37.20 629.73 37.39 630.40 37.57 C631.07 37.76 631.73 37.95 632.40 38.14 C633.07 38.32 633.73 38.51 634.40 38.70 C635.07 38.89 635.73 39.07 636.40 39.26 C637.07 39.45 637.73 39.64 638.40 39.83 C639.07 40.02 639.73 40.21 640.40 40.40 C641.07 40.59 641.73 40.79 642.40 40.99 C643.07 41.19 643.73 41.40 644.40 41.60 C645.07 41.81 645.73 42.02 646.40 42.23 C647.07 42.44 647.73 42.66 648.40 42.87 C649.07 43.08 649.73 43.29 650.40 43.51 C651.07 43.72 651.73 43.93 652.40 44.13 C653.07 44.34 653.73 44.55 654.40 44.75 C655.07 44.95 655.73 45.15 656.40 45.36 C657.07 45.56 657.73 45.76 658.40 45.96 C659.07 46.16 659.73 46.36 660.40 46.56 C661.07 46.77 661.73 46.97 662.40 47.17 C663.07 47.37 663.73 47.57 664.40 47.77 C665.07 47.96 665.73 48.16 666.40 48.35 C667.07 48.54 667.73 48.73 668.40 48.91 C669.07 49.09 669.73 49.27 670.40 49.45 C671.07 49.63 671.73 49.80 672.40 49.98 C673.07 50.16 673.73 50.34 674.40 50.52 C675.07 50.70 675.73 50.88 676.40 51.06 C677.07 51.24 678.07 51.52 678.40 51.61" fill="none" stroke="#3c3cff" stroke-width="1.00"/>
<path d="M374.40 19.95 V65.90 H679.15" fill="none" stroke="#222" stroke-width="1.50"/>
<path d="M374.40 65.90 V62.10 M404.80 65.90 V62.10 M435.20 65.90 V62.10 M465.60 65.90 V62.10 M496.00 65.90 V62.10 M526.40 65.90 V62.10 M556.80 65.90 V62.10 M587.20 65.90 V62.10 M617.60 65.90 V62.10 M648.00 65.90 V62.10 M678.40 65.90 V62.10 M374.40 43.30 H377.40 M374.40 20.70 H377.40" fill="none" stroke="#222" stroke-width="1"/>
<text x="374.40" y="76.50" font-family="Liberation Sans, sans-serif" font-size="8.50" fill="#111" text-anchor="middle">1.99</text>
<text x="404.80" y="76.50" font-family="Liberation Sans, sans-serif" font-size="8.50" fill="#111" text-anchor="middle">1.992</text>
<text x="435.20" y="76.50" font-family="Liberation Sans, sans-serif" font-size="8.50" fill="#111" text-anchor="middle">1.994</text>
<text x="465.60" y="76.50" font-family="Liberation Sans, sans-serif" font-size="8.50" fill="#111" text-anchor="middle">1.996</text>
<text x="496.00" y="76.50" font-family="Liberation Sans, sans-serif" font-size="8.50" fill="#111" text-anchor="middle">1.998</text>
<text x="526.40" y="76.50" font-family="Liberation Sans, sans-serif" font-size="8.50" fill="#111" text-anchor="middle">2</text>
<text x="556.80" y="76.50" font-family="Liberation Sans, sans-serif" font-size="8.50" fill="#111" text-anchor="middle">2.002</text>
<text x="587.20" y="76.50" font-family="Liberation Sans, sans-serif" font-size="8.50" fill="#111" text-anchor="middle">2.004</text>
<text x="617.60" y="76.50" font-family="Liberation Sans, sans-serif" font-size="8.50" fill="#111" text-anchor="middle">2.006</text>
<text x="648.00" y="76.50" font-family="Liberation Sans, sans-serif" font-size="8.50" fill="#111" text-anchor="middle">2.008</text>
<text x="678.40" y="76.50" font-family="Liberation Sans, sans-serif" font-size="8.50" fill="#111" text-anchor="middle">2.01</text>
<text x="369.40" y="68.60" font-family="Liberation Sans, sans-serif" font-size="8.70" fill="#111" text-anchor="end">0</text>
<text x="369.40" y="46.00" font-family="Liberation Sans, sans-serif" font-size="8.70" fill="#111" text-anchor="end">0.5</text>
<text x="369.40" y="23.40" font-family="Liberation Sans, sans-serif" font-size="8.70" fill="#111" text-anchor="end">1</text>
<text x="397.70" y="46.20" font-family="Liberation Sans, sans-serif" font-size="8.60" fill="#111">(i)</text>
<path d="M374.40 124.44 C374.73 124.38 375.73 124.20 376.40 124.07 C377.07 123.95 377.73 123.81 378.40 123.69 C379.07 123.57 379.73 123.44 380.40 123.33 C381.07 123.21 381.73 123.10 382.40 122.99 C383.07 122.89 383.73 122.78 384.40 122.68 C385.07 122.58 385.73 122.49 386.40 122.40 C387.07 122.31 387.73 122.23 388.40 122.15 C389.07 122.07 389.73 121.99 390.40 121.92 C391.07 121.85 391.73 121.78 392.40 121.73 C393.07 121.67 393.73 121.62 394.40 121.59 C395.07 121.55 395.73 121.52 396.40 121.50 C397.07 121.48 397.73 121.47 398.40 121.45 C399.07 121.44 399.73 121.44 400.40 121.43 C401.07 121.42 401.73 121.41 402.40 121.40 C403.07 121.40 403.73 121.39 404.40 121.39 C405.07 121.39 405.73 121.39 406.40 121.40 C407.07 121.42 407.73 121.44 408.40 121.48 C409.07 121.51 409.73 121.56 410.40 121.61 C411.07 121.67 411.73 121.73 412.40 121.78 C413.07 121.83 413.73 121.88 414.40 121.93 C415.07 121.97 415.73 122.01 416.40 122.04 C417.07 122.08 417.73 122.10 418.40 122.14 C419.07 122.18 419.73 122.23 420.40 122.28 C421.07 122.32 421.73 122.39 422.40 122.43 C423.07 122.47 423.73 122.51 424.40 122.54 C425.07 122.57 425.73 122.59 426.40 122.61 C427.07 122.63 427.73 122.65 428.40 122.66 C429.07 122.67 429.73 122.67 430.40 122.67 C431.07 122.67 431.73 122.67 432.40 122.65 C433.07 122.63 433.73 122.61 434.40 122.56 C435.07 122.51 435.73 122.44 436.40 122.34 C437.07 122.24 437.73 122.10 438.40 121.94 C439.07 121.79 439.73 121.61 440.40 121.43 C441.07 121.25 441.73 121.06 442.40 120.86 C443.07 120.67 443.73 120.46 444.40 120.25 C445.07 120.03 445.73 119.81 446.40 119.57 C447.07 119.33 447.73 119.08 448.40 118.82 C449.07 118.55 449.73 118.28 450.40 118.00 C451.07 117.72 451.73 117.42 452.40 117.11 C453.07 116.81 453.73 116.49 454.40 116.16 C455.07 115.82 455.73 115.48 456.40 115.12 C457.07 114.76 457.73 114.38 458.40 113.99 C459.07 113.61 459.73 113.20 460.40 112.81 C461.07 112.41 461.73 112.01 462.40 111.61 C463.07 111.22 463.73 110.82 464.40 110.42 C465.07 110.03 465.73 109.63 466.40 109.23 C467.07 108.83 467.73 108.43 468.40 108.02 C469.07 107.62 469.73 107.22 470.40 106.82 C471.07 106.42 471.73 106.02 472.40 105.63 C473.07 105.23 473.73 104.84 474.40 104.45 C475.07 104.06 475.73 103.69 476.40 103.31 C477.07 102.93 477.73 102.56 478.40 102.17 C479.07 101.78 479.73 101.37 480.40 100.97 C481.07 100.58 481.73 100.18 482.40 99.79 C483.07 99.40 483.73 99.01 484.40 98.63 C485.07 98.25 485.73 97.87 486.40 97.50 C487.07 97.13 487.73 96.76 488.40 96.41 C489.07 96.05 489.73 95.70 490.40 95.36 C491.07 95.02 491.73 94.69 492.40 94.36 C493.07 94.04 493.73 93.72 494.40 93.41 C495.07 93.10 495.73 92.80 496.40 92.49 C497.07 92.19 497.73 91.89 498.40 91.60 C499.07 91.30 499.73 91.01 500.40 90.73 C501.07 90.45 501.73 90.17 502.40 89.90 C503.07 89.63 503.73 89.36 504.40 89.11 C505.07 88.85 505.73 88.60 506.40 88.36 C507.07 88.12 507.73 87.88 508.40 87.66 C509.07 87.44 509.73 87.24 510.40 87.04 C511.07 86.85 511.73 86.67 512.40 86.50 C513.07 86.34 513.73 86.18 514.40 86.04 C515.07 85.90 515.73 85.77 516.40 85.65 C517.07 85.54 517.73 85.43 518.40 85.34 C519.07 85.25 519.73 85.18 520.40 85.11 C521.07 85.04 521.73 84.99 522.40 84.94 C523.07 84.90 523.73 84.86 524.40 84.84 C525.07 84.82 525.73 84.81 526.40 84.82 C527.07 84.83 527.73 84.87 528.40 84.90 C529.07 84.93 529.73 84.98 530.40 85.03 C531.07 85.07 531.73 85.11 532.40 85.16 C533.07 85.22 533.73 85.27 534.40 85.34 C535.07 85.40 535.73 85.46 536.40 85.55 C537.07 85.63 537.73 85.73 538.40 85.85 C539.07 85.97 539.73 86.11 540.40 86.27 C541.07 86.43 541.73 86.62 542.40 86.82 C543.07 87.02 543.73 87.24 544.40 87.45 C545.07 87.67 545.73 87.90 546.40 88.13 C547.07 88.36 547.73 88.59 548.40 88.83 C549.07 89.08 549.73 89.33 550.40 89.58 C551.07 89.84 551.73 90.10 552.40 90.38 C553.07 90.65 553.73 90.93 554.40 91.22 C555.07 91.51 555.73 91.80 556.40 92.10 C557.07 92.41 557.73 92.72 558.40 93.03 C559.07 93.34 559.73 93.66 560.40 93.98 C561.07 94.30 561.73 94.63 562.40 94.96 C563.07 95.29 563.73 95.62 564.40 95.96 C565.07 96.30 565.73 96.65 566.40 97.00 C567.07 97.35 567.73 97.71 568.40 98.07 C569.07 98.44 569.73 98.80 570.40 99.17 C571.07 99.54 571.73 99.92 572.40 100.29 C573.07 100.67 573.73 101.05 574.40 101.43 C575.07 101.81 575.73 102.20 576.40 102.58 C577.07 102.97 577.73 103.36 578.40 103.74 C579.07 104.12 579.73 104.50 580.40 104.87 C581.07 105.24 581.73 105.61 582.40 105.98 C583.07 106.34 583.73 106.71 584.40 107.07 C585.07 107.44 585.73 107.80 586.40 108.17 C587.07 108.53 587.73 108.90 588.40 109.27 C589.07 109.64 589.73 110.01 590.40 110.38 C591.07 110.74 591.73 111.11 592.40 111.47 C593.07 111.83 593.73 112.18 594.40 112.54 C595.07 112.89 595.73 113.23 596.40 113.58 C597.07 113.93 597.73 114.27 598.40 114.63 C599.07 114.98 599.73 115.33 600.40 115.72 C601.07 116.10 601.73 116.53 602.40 116.93 C603.07 117.32 603.73 117.75 604.40 118.07 C605.07 118.39 605.73 118.62 606.40 118.86 C607.07 119.10 607.73 119.30 608.40 119.51 C609.07 119.71 609.73 119.92 610.40 120.11 C611.07 120.30 611.73 120.49 612.40 120.65 C613.07 120.81 613.73 120.96 614.40 121.10 C615.07 121.23 615.73 121.36 616.40 121.47 C617.07 121.57 617.73 121.67 618.40 121.75 C619.07 121.83 619.73 121.90 620.40 121.96 C621.07 122.01 621.73 122.06 622.40 122.10 C623.07 122.15 623.73 122.19 624.40 122.21 C625.07 122.23 625.73 122.25 626.40 122.25 C627.07 122.25 627.73 122.23 628.40 122.20 C629.07 122.17 629.73 122.11 630.40 122.07 C631.07 122.02 631.73 121.96 632.40 121.92 C633.07 121.87 633.73 121.82 634.40 121.78 C635.07 121.73 635.73 121.69 636.40 121.64 C637.07 121.60 637.73 121.55 638.40 121.50 C639.07 121.45 639.73 121.40 640.40 121.36 C641.07 121.32 641.73 121.28 642.40 121.26 C643.07 121.24 643.73 121.24 644.40 121.23 C645.07 121.22 645.73 121.23 646.40 121.23 C647.07 121.23 647.73 121.24 648.40 121.25 C649.07 121.26 649.73 121.26 650.40 121.28 C651.07 121.29 651.73 121.30 652.40 121.31 C653.07 121.33 653.73 121.35 654.40 121.37 C655.07 121.40 655.73 121.43 656.40 121.47 C657.07 121.50 657.73 121.54 658.40 121.59 C659.07 121.64 659.73 121.69 660.40 121.75 C661.07 121.80 661.73 121.86 662.40 121.93 C663.07 122.00 663.73 122.08 664.40 122.16 C665.07 122.24 665.73 122.34 666.40 122.42 C667.07 122.51 667.73 122.59 668.40 122.67 C669.07 122.75 669.73 122.83 670.40 122.90 C671.07 122.97 671.73 123.03 672.40 123.10 C673.07 123.17 673.73 123.23 674.40 123.30 C675.07 123.36 675.73 123.43 676.40 123.51 C677.07 123.59 678.07 123.73 678.40 123.77" fill="none" stroke="#ff3434" stroke-width="1.00" stroke-dasharray="5.3 2.4 1.2 2.4"/>
<path d="M374.40 122.43 C374.73 122.39 375.73 122.27 376.40 122.19 C377.07 122.11 377.73 122.02 378.40 121.93 C379.07 121.84 379.73 121.74 380.40 121.63 C381.07 121.52 381.73 121.40 382.40 121.27 C383.07 121.14 383.73 121.00 384.40 120.86 C385.07 120.73 385.73 120.59 386.40 120.45 C387.07 120.32 387.73 120.20 388.40 120.07 C389.07 119.95 389.73 119.83 390.40 119.72 C391.07 119.60 391.73 119.49 392.40 119.37 C393.07 119.26 393.73 119.14 394.40 119.03 C395.07 118.91 395.73 118.79 396.40 118.67 C397.07 118.55 397.73 118.43 398.40 118.32 C399.07 118.20 399.73 118.09 400.40 117.98 C401.07 117.87 401.73 117.76 402.40 117.66 C403.07 117.55 403.73 117.46 404.40 117.36 C405.07 117.26 405.73 117.16 406.40 117.06 C407.07 116.96 407.73 116.86 408.40 116.76 C409.07 116.66 409.73 116.56 410.40 116.46 C411.07 116.36 411.73 116.25 412.40 116.16 C413.07 116.06 413.73 115.96 414.40 115.87 C415.07 115.78 415.73 115.69 416.40 115.60 C417.07 115.52 417.73 115.43 418.40 115.36 C419.07 115.29 419.73 115.22 420.40 115.17 C421.07 115.12 421.73 115.09 422.40 115.05 C423.07 115.00 423.73 114.96 424.40 114.90 C425.07 114.85 425.73 114.79 426.40 114.73 C427.07 114.67 427.73 114.60 428.40 114.54 C429.07 114.48 429.73 114.42 430.40 114.37 C431.07 114.32 431.73 114.28 432.40 114.23 C433.07 114.19 433.73 114.16 434.40 114.12 C435.07 114.08 435.73 114.03 436.40 113.99 C437.07 113.94 437.73 113.89 438.40 113.84 C439.07 113.79 439.73 113.73 440.40 113.68 C441.07 113.63 441.73 113.58 442.40 113.53 C443.07 113.48 443.73 113.44 444.40 113.38 C445.07 113.33 445.73 113.27 446.40 113.20 C447.07 113.13 447.73 113.05 448.40 112.96 C449.07 112.87 449.73 112.78 450.40 112.68 C451.07 112.58 451.73 112.47 452.40 112.35 C453.07 112.23 453.73 112.11 454.40 111.98 C455.07 111.85 455.73 111.71 456.40 111.57 C457.07 111.43 457.73 111.29 458.40 111.14 C459.07 110.99 459.73 110.84 460.40 110.67 C461.07 110.50 461.73 110.33 462.40 110.13 C463.07 109.94 463.73 109.73 464.40 109.50 C465.07 109.28 465.73 109.04 466.40 108.78 C467.07 108.52 467.73 108.24 468.40 107.95 C469.07 107.67 469.73 107.36 470.40 107.04 C471.07 106.73 471.73 106.41 472.40 106.09 C473.07 105.77 473.73 105.44 474.40 105.11 C475.07 104.78 475.73 104.45 476.40 104.11 C477.07 103.77 477.73 103.43 478.40 103.08 C479.07 102.74 479.73 102.38 480.40 102.02 C481.07 101.66 481.73 101.28 482.40 100.92 C483.07 100.55 483.73 100.19 484.40 99.83 C485.07 99.48 485.73 99.12 486.40 98.77 C487.07 98.42 487.73 98.07 488.40 97.73 C489.07 97.38 489.73 97.03 490.40 96.69 C491.07 96.35 491.73 96.01 492.40 95.67 C493.07 95.33 493.73 95.00 494.40 94.67 C495.07 94.33 495.73 94.01 496.40 93.69 C497.07 93.37 497.73 93.05 498.40 92.74 C499.07 92.43 499.73 92.13 500.40 91.83 C501.07 91.53 501.73 91.23 502.40 90.94 C503.07 90.65 503.73 90.37 504.40 90.08 C505.07 89.80 505.73 89.51 506.40 89.24 C507.07 88.97 507.73 88.70 508.40 88.44 C509.07 88.19 509.73 87.94 510.40 87.71 C511.07 87.49 511.73 87.27 512.40 87.07 C513.07 86.87 513.73 86.68 514.40 86.50 C515.07 86.33 515.73 86.16 516.40 86.02 C517.07 85.88 517.73 85.75 518.40 85.64 C519.07 85.53 519.73 85.44 520.40 85.35 C521.07 85.27 521.73 85.20 522.40 85.14 C523.07 85.08 523.73 85.03 524.40 84.99 C525.07 84.95 525.73 84.92 526.40 84.90 C527.07 84.88 527.73 84.88 528.40 84.88 C529.07 84.88 529.73 84.89 530.40 84.91 C531.07 84.94 531.73 84.96 532.40 85.01 C533.07 85.05 533.73 85.10 534.40 85.17 C535.07 85.23 535.73 85.31 536.40 85.39 C537.07 85.48 537.73 85.58 538.40 85.69 C539.07 85.80 539.73 85.92 540.40 86.06 C541.07 86.20 541.73 86.36 542.40 86.52 C543.07 86.69 543.73 86.87 544.40 87.05 C545.07 87.23 545.73 87.42 546.40 87.61 C547.07 87.81 547.73 88.00 548.40 88.21 C549.07 88.42 549.73 88.63 550.40 88.86 C551.07 89.08 551.73 89.31 552.40 89.56 C553.07 89.81 553.73 90.07 554.40 90.34 C555.07 90.61 555.73 90.89 556.40 91.18 C557.07 91.46 557.73 91.76 558.40 92.05 C559.07 92.35 559.73 92.64 560.40 92.93 C561.07 93.23 561.73 93.52 562.40 93.82 C563.07 94.12 563.73 94.41 564.40 94.72 C565.07 95.03 565.73 95.34 566.40 95.66 C567.07 95.98 567.73 96.31 568.40 96.64 C569.07 96.98 569.73 97.32 570.40 97.66 C571.07 97.99 571.73 98.33 572.40 98.65 C573.07 98.98 573.73 99.29 574.40 99.60 C575.07 99.92 575.73 100.22 576.40 100.52 C577.07 100.82 577.73 101.12 578.40 101.41 C579.07 101.69 579.73 101.97 580.40 102.24 C581.07 102.51 581.73 102.77 582.40 103.03 C583.07 103.28 583.73 103.53 584.40 103.77 C585.07 104.01 585.73 104.24 586.40 104.47 C587.07 104.69 587.73 104.91 588.40 105.11 C589.07 105.32 589.73 105.52 590.40 105.72 C591.07 105.91 591.73 106.10 592.40 106.29 C593.07 106.48 593.73 106.66 594.40 106.84 C595.07 107.02 595.73 107.20 596.40 107.37 C597.07 107.54 597.73 107.70 598.40 107.85 C599.07 108.00 599.73 108.13 600.40 108.26 C601.07 108.39 601.73 108.51 602.40 108.63 C603.07 108.76 603.73 108.91 604.40 109.02 C605.07 109.14 605.73 109.24 606.40 109.32 C607.07 109.39 607.73 109.44 608.40 109.48 C609.07 109.53 609.73 109.57 610.40 109.60 C611.07 109.64 611.73 109.67 612.40 109.70 C613.07 109.74 613.73 109.77 614.40 109.80 C615.07 109.83 615.73 109.86 616.40 109.89 C617.07 109.92 617.73 109.95 618.40 109.99 C619.07 110.02 619.73 110.05 620.40 110.09 C621.07 110.12 621.73 110.16 622.40 110.20 C623.07 110.24 623.73 110.28 624.40 110.33 C625.07 110.37 625.73 110.42 626.40 110.47 C627.07 110.53 627.73 110.58 628.40 110.65 C629.07 110.71 629.73 110.78 630.40 110.85 C631.07 110.93 631.73 111.01 632.40 111.09 C633.07 111.18 633.73 111.27 634.40 111.36 C635.07 111.46 635.73 111.55 636.40 111.66 C637.07 111.77 637.73 111.88 638.40 111.99 C639.07 112.11 639.73 112.23 640.40 112.35 C641.07 112.47 641.73 112.60 642.40 112.73 C643.07 112.85 643.73 112.98 644.40 113.11 C645.07 113.25 645.73 113.38 646.40 113.52 C647.07 113.65 647.73 113.79 648.40 113.92 C649.07 114.06 649.73 114.19 650.40 114.33 C651.07 114.46 651.73 114.60 652.40 114.73 C653.07 114.87 653.73 115.00 654.40 115.13 C655.07 115.26 655.73 115.39 656.40 115.51 C657.07 115.63 657.73 115.75 658.40 115.87 C659.07 115.98 659.73 116.10 660.40 116.21 C661.07 116.33 661.73 116.44 662.40 116.56 C663.07 116.68 663.73 116.79 664.40 116.91 C665.07 117.03 665.73 117.15 666.40 117.27 C667.07 117.38 667.73 117.50 668.40 117.61 C669.07 117.72 669.73 117.83 670.40 117.93 C671.07 118.04 671.73 118.14 672.40 118.24 C673.07 118.34 673.73 118.43 674.40 118.53 C675.07 118.63 675.73 118.72 676.40 118.81 C677.07 118.91 678.07 119.03 678.40 119.07" fill="none" stroke="#3c3cff" stroke-width="1.00"/>
<path d="M374.40 83.95 V129.90 H679.15" fill="none" stroke="#222" stroke-width="1.50"/>
<path d="M374.40 129.90 V126.10 M404.80 129.90 V126.10 M435.20 129.90 V126.10 M465.60 129.90 V126.10 M496.00 129.90 V126.10 M526.40 129.90 V126.10 M556.80 129.90 V126.10 M587.20 129.90 V126.10 M617.60 129.90 V126.10 M648.00 129.90 V126.10 M678.40 129.90 V126.10 M374.40 107.30 H377.40 M374.40 84.70 H377.40" fill="none" stroke="#222" stroke-width="1"/>
<text x="374.40" y="140.50" font-family="Liberation Sans, sans-serif" font-size="8.50" fill="#111" text-anchor="middle">1.99</text>
<text x="404.80" y="140.50" font-family="Liberation Sans, sans-serif" font-size="8.50" fill="#111" text-anchor="middle">1.992</text>
<text x="435.20" y="140.50" font-family="Liberation Sans, sans-serif" font-size="8.50" fill="#111" text-anchor="middle">1.994</text>
<text x="465.60" y="140.50" font-family="Liberation Sans, sans-serif" font-size="8.50" fill="#111" text-anchor="middle">1.996</text>
<text x="496.00" y="140.50" font-family="Liberation Sans, sans-serif" font-size="8.50" fill="#111" text-anchor="middle">1.998</text>
<text x="526.40" y="140.50" font-family="Liberation Sans, sans-serif" font-size="8.50" fill="#111" text-anchor="middle">2</text>
<text x="556.80" y="140.50" font-family="Liberation Sans, sans-serif" font-size="8.50" fill="#111" text-anchor="middle">2.002</text>
<text x="587.20" y="140.50" font-family="Liberation Sans, sans-serif" font-size="8.50" fill="#111" text-anchor="middle">2.004</text>
<text x="617.60" y="140.50" font-family="Liberation Sans, sans-serif" font-size="8.50" fill="#111" text-anchor="middle">2.006</text>
<text x="648.00" y="140.50" font-family="Liberation Sans, sans-serif" font-size="8.50" fill="#111" text-anchor="middle">2.008</text>
<text x="678.40" y="140.50" font-family="Liberation Sans, sans-serif" font-size="8.50" fill="#111" text-anchor="middle">2.01</text>
<text x="369.40" y="132.60" font-family="Liberation Sans, sans-serif" font-size="8.70" fill="#111" text-anchor="end">0</text>
<text x="369.40" y="110.00" font-family="Liberation Sans, sans-serif" font-size="8.70" fill="#111" text-anchor="end">0.5</text>
<text x="369.40" y="87.40" font-family="Liberation Sans, sans-serif" font-size="8.70" fill="#111" text-anchor="end">1</text>
<text x="399.00" y="110.35" font-family="Liberation Sans, sans-serif" font-size="8.60" fill="#111">(ii)</text>
<path d="M374.40 191.63 C374.73 191.63 375.73 191.63 376.40 191.62 C377.07 191.62 377.73 191.62 378.40 191.62 C379.07 191.62 379.73 191.62 380.40 191.63 C381.07 191.64 381.73 191.65 382.40 191.66 C383.07 191.67 383.73 191.68 384.40 191.70 C385.07 191.71 385.73 191.73 386.40 191.76 C387.07 191.79 387.73 191.82 388.40 191.86 C389.07 191.91 389.73 191.96 390.40 192.01 C391.07 192.06 391.73 192.12 392.40 192.17 C393.07 192.22 393.73 192.27 394.40 192.31 C395.07 192.35 395.73 192.39 396.40 192.42 C397.07 192.45 397.73 192.48 398.40 192.51 C399.07 192.55 399.73 192.58 400.40 192.62 C401.07 192.66 401.73 192.71 402.40 192.75 C403.07 192.80 403.73 192.86 404.40 192.91 C405.07 192.97 405.73 193.02 406.40 193.06 C407.07 193.11 407.73 193.14 408.40 193.17 C409.07 193.20 409.73 193.23 410.40 193.25 C411.07 193.27 411.73 193.28 412.40 193.29 C413.07 193.30 413.73 193.30 414.40 193.30 C415.07 193.30 415.73 193.30 416.40 193.29 C417.07 193.28 417.73 193.26 418.40 193.24 C419.07 193.22 419.73 193.19 420.40 193.16 C421.07 193.13 421.73 193.09 422.40 193.05 C423.07 193.01 423.73 192.96 424.40 192.91 C425.07 192.86 425.73 192.80 426.40 192.75 C427.07 192.69 427.73 192.63 428.40 192.56 C429.07 192.49 429.73 192.41 430.40 192.34 C431.07 192.28 431.73 192.21 432.40 192.18 C433.07 192.15 433.73 192.14 434.40 192.15 C435.07 192.16 435.73 192.20 436.40 192.23 C437.07 192.26 437.73 192.30 438.40 192.34 C439.07 192.38 439.73 192.42 440.40 192.46 C441.07 192.51 441.73 192.56 442.40 192.61 C443.07 192.67 443.73 192.75 444.40 192.81 C445.07 192.88 445.73 192.96 446.40 193.02 C447.07 193.07 447.73 193.12 448.40 193.14 C449.07 193.16 449.73 193.20 450.40 193.14 C451.07 193.07 451.73 192.96 452.40 192.76 C453.07 192.56 453.73 192.22 454.40 191.94 C455.07 191.66 455.73 191.37 456.40 191.09 C457.07 190.81 457.73 190.54 458.40 190.26 C459.07 189.99 459.73 189.71 460.40 189.43 C461.07 189.15 461.73 188.86 462.40 188.56 C463.07 188.27 463.73 187.96 464.40 187.65 C465.07 187.34 465.73 187.03 466.40 186.71 C467.07 186.38 467.73 186.05 468.40 185.69 C469.07 185.34 469.73 184.96 470.40 184.57 C471.07 184.17 471.73 183.75 472.40 183.31 C473.07 182.87 473.73 182.41 474.40 181.95 C475.07 181.49 475.73 181.01 476.40 180.54 C477.07 180.06 477.73 179.58 478.40 179.09 C479.07 178.61 479.73 178.11 480.40 177.61 C481.07 177.11 481.73 176.60 482.40 176.08 C483.07 175.57 483.73 175.04 484.40 174.51 C485.07 173.98 485.73 173.44 486.40 172.89 C487.07 172.34 487.73 171.79 488.40 171.23 C489.07 170.67 489.73 170.10 490.40 169.53 C491.07 168.96 491.73 168.37 492.40 167.79 C493.07 167.20 493.73 166.60 494.40 166.02 C495.07 165.44 495.73 164.85 496.40 164.28 C497.07 163.71 497.73 163.15 498.40 162.60 C499.07 162.04 499.73 161.49 500.40 160.96 C501.07 160.43 501.73 159.90 502.40 159.39 C503.07 158.88 503.73 158.39 504.40 157.92 C505.07 157.44 505.73 156.99 506.40 156.54 C507.07 156.10 507.73 155.67 508.40 155.26 C509.07 154.85 509.73 154.45 510.40 154.06 C511.07 153.67 511.73 153.30 512.40 152.94 C513.07 152.58 513.73 152.23 514.40 151.90 C515.07 151.58 515.73 151.28 516.40 151.00 C517.07 150.73 517.73 150.49 518.40 150.27 C519.07 150.05 519.73 149.85 520.40 149.68 C521.07 149.52 521.73 149.37 522.40 149.26 C523.07 149.14 523.73 149.05 524.40 149.01 C525.07 148.97 525.73 148.99 526.40 149.03 C527.07 149.06 527.73 149.15 528.40 149.21 C529.07 149.26 529.73 149.30 530.40 149.35 C531.07 149.40 531.73 149.43 532.40 149.51 C533.07 149.59 533.73 149.69 534.40 149.82 C535.07 149.94 535.73 150.09 536.40 150.27 C537.07 150.44 537.73 150.62 538.40 150.87 C539.07 151.12 539.73 151.41 540.40 151.75 C541.07 152.10 541.73 152.53 542.40 152.94 C543.07 153.34 543.73 153.78 544.40 154.19 C545.07 154.60 545.73 155.01 546.40 155.41 C547.07 155.82 547.73 156.21 548.40 156.63 C549.07 157.04 549.73 157.46 550.40 157.89 C551.07 158.32 551.73 158.76 552.40 159.20 C553.07 159.65 553.73 160.10 554.40 160.56 C555.07 161.01 555.73 161.48 556.40 161.95 C557.07 162.43 557.73 162.91 558.40 163.40 C559.07 163.90 559.73 164.40 560.40 164.91 C561.07 165.43 561.73 165.95 562.40 166.48 C563.07 167.00 563.73 167.53 564.40 168.07 C565.07 168.60 565.73 169.13 566.40 169.67 C567.07 170.20 567.73 170.74 568.40 171.28 C569.07 171.82 569.73 172.36 570.40 172.90 C571.07 173.45 571.73 173.99 572.40 174.54 C573.07 175.09 573.73 175.65 574.40 176.21 C575.07 176.77 575.73 177.34 576.40 177.89 C577.07 178.45 577.73 179.00 578.40 179.54 C579.07 180.08 579.73 180.60 580.40 181.11 C581.07 181.62 581.73 182.12 582.40 182.61 C583.07 183.09 583.73 183.57 584.40 184.03 C585.07 184.50 585.73 184.95 586.40 185.39 C587.07 185.83 587.73 186.26 588.40 186.68 C589.07 187.10 589.73 187.52 590.40 187.92 C591.07 188.31 591.73 188.70 592.40 189.05 C593.07 189.40 593.73 189.72 594.40 190.01 C595.07 190.30 595.73 190.56 596.40 190.79 C597.07 191.02 597.73 191.21 598.40 191.39 C599.07 191.56 599.73 191.70 600.40 191.82 C601.07 191.94 601.73 192.03 602.40 192.09 C603.07 192.15 603.73 192.18 604.40 192.19 C605.07 192.19 605.73 192.15 606.40 192.11 C607.07 192.06 607.73 191.99 608.40 191.94 C609.07 191.89 609.73 191.83 610.40 191.78 C611.07 191.74 611.73 191.70 612.40 191.66 C613.07 191.63 613.73 191.60 614.40 191.59 C615.07 191.57 615.73 191.57 616.40 191.59 C617.07 191.60 617.73 191.65 618.40 191.69 C619.07 191.74 619.73 191.79 620.40 191.84 C621.07 191.89 621.73 191.94 622.40 191.99 C623.07 192.05 623.73 192.11 624.40 192.17 C625.07 192.24 625.73 192.31 626.40 192.38 C627.07 192.45 627.73 192.52 628.40 192.59 C629.07 192.66 629.73 192.73 630.40 192.80 C631.07 192.87 631.73 192.94 632.40 193.01 C633.07 193.08 633.73 193.15 634.40 193.21 C635.07 193.26 635.73 193.32 636.40 193.37 C637.07 193.42 637.73 193.46 638.40 193.50 C639.07 193.54 639.73 193.57 640.40 193.59 C641.07 193.62 641.73 193.63 642.40 193.63 C643.07 193.62 643.73 193.61 644.40 193.57 C645.07 193.53 645.73 193.48 646.40 193.40 C647.07 193.32 647.73 193.21 648.40 193.09 C649.07 192.97 649.73 192.81 650.40 192.68 C651.07 192.55 651.73 192.42 652.40 192.32 C653.07 192.21 653.73 192.13 654.40 192.06 C655.07 191.98 655.73 191.92 656.40 191.85 C657.07 191.79 657.73 191.74 658.40 191.68 C659.07 191.63 659.73 191.58 660.40 191.54 C661.07 191.50 661.73 191.46 662.40 191.43 C663.07 191.39 663.73 191.36 664.40 191.34 C665.07 191.32 665.73 191.30 666.40 191.29 C667.07 191.28 667.73 191.27 668.40 191.27 C669.07 191.27 669.73 191.27 670.40 191.27 C671.07 191.28 671.73 191.29 672.40 191.30 C673.07 191.31 673.73 191.32 674.40 191.34 C675.07 191.36 675.73 191.38 676.40 191.40 C677.07 191.42 678.07 191.45 678.40 191.46" fill="none" stroke="#ff3434" stroke-width="1.00" stroke-dasharray="5.3 2.4 1.2 2.4"/>
<path d="M374.40 190.29 C374.73 190.28 375.73 190.25 376.40 190.24 C377.07 190.22 377.73 190.20 378.40 190.18 C379.07 190.16 379.73 190.15 380.40 190.13 C381.07 190.11 381.73 190.10 382.40 190.08 C383.07 190.07 383.73 190.05 384.40 190.04 C385.07 190.02 385.73 190.01 386.40 189.98 C387.07 189.96 387.73 189.94 388.40 189.91 C389.07 189.88 389.73 189.84 390.40 189.81 C391.07 189.77 391.73 189.73 392.40 189.70 C393.07 189.67 393.73 189.64 394.40 189.61 C395.07 189.58 395.73 189.55 396.40 189.53 C397.07 189.51 397.73 189.49 398.40 189.47 C399.07 189.46 399.73 189.45 400.40 189.46 C401.07 189.46 401.73 189.47 402.40 189.49 C403.07 189.51 403.73 189.54 404.40 189.57 C405.07 189.61 405.73 189.65 406.40 189.70 C407.07 189.75 407.73 189.81 408.40 189.88 C409.07 189.94 409.73 190.02 410.40 190.10 C411.07 190.18 411.73 190.28 412.40 190.37 C413.07 190.46 413.73 190.55 414.40 190.64 C415.07 190.74 415.73 190.84 416.40 190.93 C417.07 191.03 417.73 191.14 418.40 191.24 C419.07 191.34 419.73 191.44 420.40 191.54 C421.07 191.64 421.73 191.75 422.40 191.85 C423.07 191.95 423.73 192.06 424.40 192.16 C425.07 192.26 425.73 192.36 426.40 192.45 C427.07 192.55 427.73 192.64 428.40 192.73 C429.07 192.81 429.73 192.90 430.40 192.96 C431.07 193.03 431.73 193.08 432.40 193.10 C433.07 193.13 433.73 193.12 434.40 193.10 C435.07 193.07 435.73 193.03 436.40 192.95 C437.07 192.88 437.73 192.79 438.40 192.67 C439.07 192.55 439.73 192.39 440.40 192.24 C441.07 192.08 441.73 191.90 442.40 191.73 C443.07 191.56 443.73 191.38 444.40 191.20 C445.07 191.02 445.73 190.83 446.40 190.66 C447.07 190.49 447.73 190.31 448.40 190.17 C449.07 190.02 449.73 189.90 450.40 189.79 C451.07 189.68 451.73 189.62 452.40 189.51 C453.07 189.41 453.73 189.30 454.40 189.16 C455.07 189.02 455.73 188.85 456.40 188.69 C457.07 188.53 457.73 188.36 458.40 188.20 C459.07 188.04 459.73 187.88 460.40 187.72 C461.07 187.55 461.73 187.38 462.40 187.20 C463.07 187.03 463.73 186.84 464.40 186.64 C465.07 186.44 465.73 186.24 466.40 186.03 C467.07 185.81 467.73 185.60 468.40 185.36 C469.07 185.13 469.73 184.89 470.40 184.64 C471.07 184.39 471.73 184.14 472.40 183.87 C473.07 183.60 473.73 183.32 474.40 183.03 C475.07 182.73 475.73 182.43 476.40 182.10 C477.07 181.77 477.73 181.43 478.40 181.07 C479.07 180.71 479.73 180.33 480.40 179.95 C481.07 179.56 481.73 179.16 482.40 178.75 C483.07 178.34 483.73 177.93 484.40 177.50 C485.07 177.08 485.73 176.65 486.40 176.21 C487.07 175.77 487.73 175.32 488.40 174.85 C489.07 174.38 489.73 173.89 490.40 173.39 C491.07 172.88 491.73 172.35 492.40 171.81 C493.07 171.27 493.73 170.70 494.40 170.14 C495.07 169.59 495.73 169.02 496.40 168.46 C497.07 167.90 497.73 167.35 498.40 166.80 C499.07 166.25 499.73 165.69 500.40 165.14 C501.07 164.59 501.73 164.04 502.40 163.49 C503.07 162.95 503.73 162.40 504.40 161.85 C505.07 161.30 505.73 160.75 506.40 160.21 C507.07 159.66 507.73 159.12 508.40 158.60 C509.07 158.08 509.73 157.57 510.40 157.09 C511.07 156.61 511.73 156.15 512.40 155.71 C513.07 155.27 513.73 154.84 514.40 154.44 C515.07 154.03 515.73 153.64 516.40 153.28 C517.07 152.91 517.73 152.56 518.40 152.23 C519.07 151.90 519.73 151.58 520.40 151.30 C521.07 151.01 521.73 150.74 522.40 150.51 C523.07 150.28 523.73 150.09 524.40 149.93 C525.07 149.78 525.73 149.68 526.40 149.58 C527.07 149.48 527.73 149.40 528.40 149.33 C529.07 149.27 529.73 149.22 530.40 149.19 C531.07 149.17 531.73 149.17 532.40 149.19 C533.07 149.21 533.73 149.25 534.40 149.30 C535.07 149.35 535.73 149.42 536.40 149.50 C537.07 149.59 537.73 149.68 538.40 149.84 C539.07 150.00 539.73 150.20 540.40 150.45 C541.07 150.70 541.73 151.04 542.40 151.35 C543.07 151.66 543.73 151.98 544.40 152.29 C545.07 152.60 545.73 152.91 546.40 153.22 C547.07 153.53 547.73 153.83 548.40 154.16 C549.07 154.49 549.73 154.83 550.40 155.18 C551.07 155.53 551.73 155.90 552.40 156.27 C553.07 156.64 553.73 157.02 554.40 157.40 C555.07 157.79 555.73 158.18 556.40 158.58 C557.07 158.98 557.73 159.39 558.40 159.80 C559.07 160.21 559.73 160.63 560.40 161.05 C561.07 161.47 561.73 161.89 562.40 162.32 C563.07 162.74 563.73 163.16 564.40 163.60 C565.07 164.04 565.73 164.48 566.40 164.94 C567.07 165.40 567.73 165.88 568.40 166.36 C569.07 166.84 569.73 167.33 570.40 167.80 C571.07 168.27 571.73 168.73 572.40 169.18 C573.07 169.63 573.73 170.06 574.40 170.48 C575.07 170.89 575.73 171.30 576.40 171.69 C577.07 172.09 577.73 172.48 578.40 172.86 C579.07 173.24 579.73 173.62 580.40 173.98 C581.07 174.35 581.73 174.71 582.40 175.06 C583.07 175.41 583.73 175.75 584.40 176.08 C585.07 176.41 585.73 176.72 586.40 177.03 C587.07 177.33 587.73 177.63 588.40 177.91 C589.07 178.19 589.73 178.46 590.40 178.73 C591.07 178.99 591.73 179.25 592.40 179.50 C593.07 179.76 593.73 180.00 594.40 180.25 C595.07 180.50 595.73 180.74 596.40 180.98 C597.07 181.23 597.73 181.47 598.40 181.71 C599.07 181.95 599.73 182.19 600.40 182.43 C601.07 182.67 601.73 182.91 602.40 183.15 C603.07 183.38 603.73 183.61 604.40 183.84 C605.07 184.06 605.73 184.28 606.40 184.50 C607.07 184.72 607.73 184.94 608.40 185.17 C609.07 185.40 609.73 185.63 610.40 185.88 C611.07 186.13 611.73 186.39 612.40 186.66 C613.07 186.92 613.73 187.21 614.40 187.49 C615.07 187.77 615.73 188.07 616.40 188.36 C617.07 188.64 617.73 188.94 618.40 189.21 C619.07 189.49 619.73 189.75 620.40 190.00 C621.07 190.25 621.73 190.48 622.40 190.70 C623.07 190.93 623.73 191.14 624.40 191.35 C625.07 191.56 625.73 191.76 626.40 191.96 C627.07 192.15 627.73 192.33 628.40 192.52 C629.07 192.70 629.73 192.89 630.40 193.04 C631.07 193.20 631.73 193.37 632.40 193.45 C633.07 193.54 633.73 193.58 634.40 193.55 C635.07 193.52 635.73 193.39 636.40 193.26 C637.07 193.13 637.73 192.94 638.40 192.77 C639.07 192.59 639.73 192.40 640.40 192.21 C641.07 192.01 641.73 191.80 642.40 191.60 C643.07 191.40 643.73 191.20 644.40 191.00 C645.07 190.81 645.73 190.61 646.40 190.44 C647.07 190.26 647.73 190.09 648.40 189.93 C649.07 189.78 649.73 189.64 650.40 189.50 C651.07 189.37 651.73 189.25 652.40 189.13 C653.07 189.02 653.73 188.91 654.40 188.81 C655.07 188.71 655.73 188.61 656.40 188.52 C657.07 188.44 657.73 188.36 658.40 188.29 C659.07 188.22 659.73 188.15 660.40 188.10 C661.07 188.04 661.73 187.99 662.40 187.95 C663.07 187.91 663.73 187.88 664.40 187.86 C665.07 187.83 665.73 187.82 666.40 187.81 C667.07 187.79 667.73 187.79 668.40 187.78 C669.07 187.77 669.73 187.77 670.40 187.76 C671.07 187.76 671.73 187.75 672.40 187.75 C673.07 187.75 673.73 187.75 674.40 187.76 C675.07 187.77 675.73 187.78 676.40 187.81 C677.07 187.84 678.07 187.92 678.40 187.94" fill="none" stroke="#3c3cff" stroke-width="1.00"/>
<path d="M374.40 148.55 V194.20 H679.15" fill="none" stroke="#222" stroke-width="1.50"/>
<path d="M374.40 194.20 V190.40 M404.80 194.20 V190.40 M435.20 194.20 V190.40 M465.60 194.20 V190.40 M496.00 194.20 V190.40 M526.40 194.20 V190.40 M556.80 194.20 V190.40 M587.20 194.20 V190.40 M617.60 194.20 V190.40 M648.00 194.20 V190.40 M678.40 194.20 V190.40 M374.40 171.75 H377.40 M374.40 149.30 H377.40" fill="none" stroke="#222" stroke-width="1"/>
<text x="374.40" y="204.80" font-family="Liberation Sans, sans-serif" font-size="8.50" fill="#111" text-anchor="middle">1.99</text>
<text x="404.80" y="204.80" font-family="Liberation Sans, sans-serif" font-size="8.50" fill="#111" text-anchor="middle">1.992</text>
<text x="435.20" y="204.80" font-family="Liberation Sans, sans-serif" font-size="8.50" fill="#111" text-anchor="middle">1.994</text>
<text x="465.60" y="204.80" font-family="Liberation Sans, sans-serif" font-size="8.50" fill="#111" text-anchor="middle">1.996</text>
<text x="496.00" y="204.80" font-family="Liberation Sans, sans-serif" font-size="8.50" fill="#111" text-anchor="middle">1.998</text>
<text x="526.40" y="204.80" font-family="Liberation Sans, sans-serif" font-size="8.50" fill="#111" text-anchor="middle">2</text>
<text x="556.80" y="204.80" font-family="Liberation Sans, sans-serif" font-size="8.50" fill="#111" text-anchor="middle">2.002</text>
<text x="587.20" y="204.80" font-family="Liberation Sans, sans-serif" font-size="8.50" fill="#111" text-anchor="middle">2.004</text>
<text x="617.60" y="204.80" font-family="Liberation Sans, sans-serif" font-size="8.50" fill="#111" text-anchor="middle">2.006</text>
<text x="648.00" y="204.80" font-family="Liberation Sans, sans-serif" font-size="8.50" fill="#111" text-anchor="middle">2.008</text>
<text x="678.40" y="204.80" font-family="Liberation Sans, sans-serif" font-size="8.50" fill="#111" text-anchor="middle">2.01</text>
<text x="369.40" y="196.90" font-family="Liberation Sans, sans-serif" font-size="8.70" fill="#111" text-anchor="end">0</text>
<text x="369.40" y="174.45" font-family="Liberation Sans, sans-serif" font-size="8.70" fill="#111" text-anchor="end">0.5</text>
<text x="369.40" y="152.00" font-family="Liberation Sans, sans-serif" font-size="8.70" fill="#111" text-anchor="end">1</text>
<text x="399.90" y="173.25" font-family="Liberation Sans, sans-serif" font-size="8.60" fill="#111">(iii)</text>
<path d="M374.40 256.81 C374.73 256.81 375.73 256.81 376.40 256.81 C377.07 256.81 377.73 256.81 378.40 256.81 C379.07 256.81 379.73 256.81 380.40 256.81 C381.07 256.81 381.73 256.81 382.40 256.81 C383.07 256.81 383.73 256.82 384.40 256.82 C385.07 256.82 385.73 256.82 386.40 256.81 C387.07 256.80 387.73 256.80 388.40 256.78 C389.07 256.77 389.73 256.75 390.40 256.73 C391.07 256.71 391.73 256.69 392.40 256.68 C393.07 256.66 393.73 256.65 394.40 256.64 C395.07 256.63 395.73 256.62 396.40 256.62 C397.07 256.62 397.73 256.62 398.40 256.62 C399.07 256.62 399.73 256.63 400.40 256.64 C401.07 256.64 401.73 256.65 402.40 256.67 C403.07 256.68 403.73 256.70 404.40 256.72 C405.07 256.74 405.73 256.76 406.40 256.77 C407.07 256.79 407.73 256.81 408.40 256.83 C409.07 256.84 409.73 256.86 410.40 256.88 C411.07 256.89 411.73 256.91 412.40 256.93 C413.07 256.94 413.73 256.96 414.40 256.98 C415.07 257.00 415.73 257.01 416.40 257.03 C417.07 257.05 417.73 257.07 418.40 257.09 C419.07 257.10 419.73 257.12 420.40 257.13 C421.07 257.14 421.73 257.14 422.40 257.14 C423.07 257.15 423.73 257.14 424.40 257.14 C425.07 257.14 425.73 257.14 426.40 257.14 C427.07 257.14 427.73 257.15 428.40 257.15 C429.07 257.16 429.73 257.18 430.40 257.19 C431.07 257.21 431.73 257.22 432.40 257.24 C433.07 257.26 433.73 257.29 434.40 257.32 C435.07 257.34 435.73 257.38 436.40 257.42 C437.07 257.45 437.73 257.50 438.40 257.53 C439.07 257.56 439.73 257.60 440.40 257.62 C441.07 257.64 441.73 257.64 442.40 257.65 C443.07 257.65 443.73 257.64 444.40 257.63 C445.07 257.61 445.73 257.59 446.40 257.55 C447.07 257.52 447.73 257.48 448.40 257.40 C449.07 257.32 449.73 257.21 450.40 257.08 C451.07 256.95 451.73 256.76 452.40 256.59 C453.07 256.43 453.73 256.27 454.40 256.10 C455.07 255.92 455.73 255.75 456.40 255.55 C457.07 255.35 457.73 255.10 458.40 254.88 C459.07 254.65 459.73 254.41 460.40 254.19 C461.07 253.97 461.73 253.77 462.40 253.56 C463.07 253.34 463.73 253.14 464.40 252.92 C465.07 252.70 465.73 252.47 466.40 252.23 C467.07 251.99 467.73 251.73 468.40 251.46 C469.07 251.19 469.73 250.90 470.40 250.61 C471.07 250.33 471.73 250.03 472.40 249.74 C473.07 249.44 473.73 249.15 474.40 248.86 C475.07 248.57 475.73 248.28 476.40 247.99 C477.07 247.69 477.73 247.40 478.40 247.09 C479.07 246.78 479.73 246.46 480.40 246.12 C481.07 245.79 481.73 245.45 482.40 245.10 C483.07 244.75 483.73 244.39 484.40 244.01 C485.07 243.64 485.73 243.25 486.40 242.84 C487.07 242.44 487.73 242.01 488.40 241.58 C489.07 241.14 489.73 240.69 490.40 240.22 C491.07 239.75 491.73 239.27 492.40 238.77 C493.07 238.26 493.73 237.74 494.40 237.20 C495.07 236.65 495.73 236.08 496.40 235.50 C497.07 234.92 497.73 234.32 498.40 233.72 C499.07 233.12 499.73 232.52 500.40 231.91 C501.07 231.30 501.73 230.68 502.40 230.06 C503.07 229.44 503.73 228.81 504.40 228.19 C505.07 227.57 505.73 226.95 506.40 226.36 C507.07 225.76 507.73 225.17 508.40 224.59 C509.07 224.01 509.73 223.44 510.40 222.89 C511.07 222.34 511.73 221.79 512.40 221.28 C513.07 220.76 513.73 220.26 514.40 219.79 C515.07 219.31 515.73 218.85 516.40 218.42 C517.07 217.98 517.73 217.56 518.40 217.18 C519.07 216.79 519.73 216.43 520.40 216.11 C521.07 215.78 521.73 215.50 522.40 215.24 C523.07 214.97 523.73 214.75 524.40 214.52 C525.07 214.30 525.73 214.08 526.40 213.90 C527.07 213.72 527.73 213.55 528.40 213.44 C529.07 213.33 529.73 213.27 530.40 213.24 C531.07 213.20 531.73 213.21 532.40 213.25 C533.07 213.29 533.73 213.37 534.40 213.49 C535.07 213.62 535.73 213.79 536.40 214.00 C537.07 214.21 537.73 214.47 538.40 214.75 C539.07 215.02 539.73 215.33 540.40 215.65 C541.07 215.97 541.73 216.32 542.40 216.69 C543.07 217.05 543.73 217.44 544.40 217.84 C545.07 218.25 545.73 218.68 546.40 219.13 C547.07 219.59 547.73 220.07 548.40 220.58 C549.07 221.09 549.73 221.63 550.40 222.21 C551.07 222.78 551.73 223.40 552.40 224.03 C553.07 224.66 553.73 225.32 554.40 225.98 C555.07 226.64 555.73 227.31 556.40 227.99 C557.07 228.66 557.73 229.35 558.40 230.04 C559.07 230.74 559.73 231.44 560.40 232.15 C561.07 232.86 561.73 233.57 562.40 234.28 C563.07 235.00 563.73 235.72 564.40 236.44 C565.07 237.16 565.73 237.90 566.40 238.62 C567.07 239.34 567.73 240.06 568.40 240.76 C569.07 241.46 569.73 242.13 570.40 242.80 C571.07 243.46 571.73 244.11 572.40 244.74 C573.07 245.37 573.73 245.98 574.40 246.57 C575.07 247.16 575.73 247.73 576.40 248.28 C577.07 248.82 577.73 249.35 578.40 249.85 C579.07 250.35 579.73 250.83 580.40 251.28 C581.07 251.73 581.73 252.15 582.40 252.54 C583.07 252.93 583.73 253.28 584.40 253.61 C585.07 253.93 585.73 254.21 586.40 254.48 C587.07 254.74 587.73 254.98 588.40 255.20 C589.07 255.41 589.73 255.61 590.40 255.78 C591.07 255.94 591.73 256.09 592.40 256.21 C593.07 256.34 593.73 256.44 594.40 256.53 C595.07 256.63 595.73 256.71 596.40 256.79 C597.07 256.87 597.73 256.93 598.40 256.99 C599.07 257.05 599.73 257.10 600.40 257.15 C601.07 257.20 601.73 257.26 602.40 257.32 C603.07 257.38 603.73 257.45 604.40 257.50 C605.07 257.55 605.73 257.59 606.40 257.61 C607.07 257.63 607.73 257.63 608.40 257.65 C609.07 257.66 609.73 257.67 610.40 257.69 C611.07 257.70 611.73 257.73 612.40 257.75 C613.07 257.77 613.73 257.79 614.40 257.79 C615.07 257.80 615.73 257.81 616.40 257.80 C617.07 257.80 617.73 257.79 618.40 257.77 C619.07 257.76 619.73 257.74 620.40 257.71 C621.07 257.69 621.73 257.66 622.40 257.62 C623.07 257.59 623.73 257.54 624.40 257.49 C625.07 257.45 625.73 257.39 626.40 257.34 C627.07 257.29 627.73 257.23 628.40 257.18 C629.07 257.12 629.73 257.07 630.40 257.02 C631.07 256.97 631.73 256.92 632.40 256.86 C633.07 256.81 633.73 256.76 634.40 256.72 C635.07 256.67 635.73 256.63 636.40 256.59 C637.07 256.55 637.73 256.51 638.40 256.47 C639.07 256.43 639.73 256.40 640.40 256.37 C641.07 256.35 641.73 256.32 642.40 256.31 C643.07 256.29 643.73 256.29 644.40 256.28 C645.07 256.28 645.73 256.28 646.40 256.29 C647.07 256.29 647.73 256.30 648.40 256.30 C649.07 256.30 649.73 256.30 650.40 256.31 C651.07 256.31 651.73 256.31 652.40 256.31 C653.07 256.31 653.73 256.31 654.40 256.31 C655.07 256.30 655.73 256.30 656.40 256.28 C657.07 256.27 657.73 256.25 658.40 256.24 C659.07 256.22 659.73 256.20 660.40 256.18 C661.07 256.16 661.73 256.15 662.40 256.14 C663.07 256.13 663.73 256.13 664.40 256.12 C665.07 256.12 665.73 256.13 666.40 256.13 C667.07 256.13 667.73 256.13 668.40 256.13 C669.07 256.13 669.73 256.13 670.40 256.13 C671.07 256.13 671.73 256.13 672.40 256.13 C673.07 256.13 673.73 256.12 674.40 256.13 C675.07 256.14 675.73 256.14 676.40 256.17 C677.07 256.20 678.07 256.28 678.40 256.30" fill="none" stroke="#ff3434" stroke-width="1.00" stroke-dasharray="5.3 2.4 1.2 2.4"/>
<path d="M374.40 256.30 C374.73 256.30 375.73 256.30 376.40 256.30 C377.07 256.30 377.73 256.30 378.40 256.30 C379.07 256.30 379.73 256.30 380.40 256.30 C381.07 256.30 381.73 256.31 382.40 256.31 C383.07 256.31 383.73 256.31 384.40 256.31 C385.07 256.31 385.73 256.31 386.40 256.31 C387.07 256.30 387.73 256.30 388.40 256.29 C389.07 256.27 389.73 256.26 390.40 256.25 C391.07 256.23 391.73 256.21 392.40 256.19 C393.07 256.17 393.73 256.15 394.40 256.12 C395.07 256.10 395.73 256.07 396.40 256.04 C397.07 256.01 397.73 255.97 398.40 255.94 C399.07 255.90 399.73 255.86 400.40 255.82 C401.07 255.78 401.73 255.74 402.40 255.69 C403.07 255.65 403.73 255.60 404.40 255.55 C405.07 255.50 405.73 255.45 406.40 255.39 C407.07 255.33 407.73 255.28 408.40 255.21 C409.07 255.15 409.73 255.08 410.40 255.01 C411.07 254.95 411.73 254.87 412.40 254.81 C413.07 254.74 413.73 254.68 414.40 254.62 C415.07 254.56 415.73 254.50 416.40 254.45 C417.07 254.40 417.73 254.35 418.40 254.30 C419.07 254.25 419.73 254.20 420.40 254.16 C421.07 254.12 421.73 254.07 422.40 254.03 C423.07 253.99 423.73 253.95 424.40 253.91 C425.07 253.88 425.73 253.85 426.40 253.83 C427.07 253.80 427.73 253.79 428.40 253.79 C429.07 253.78 429.73 253.79 430.40 253.80 C431.07 253.81 431.73 253.83 432.40 253.86 C433.07 253.89 433.73 253.92 434.40 253.96 C435.07 254.01 435.73 254.06 436.40 254.12 C437.07 254.18 437.73 254.25 438.40 254.32 C439.07 254.39 439.73 254.47 440.40 254.54 C441.07 254.62 441.73 254.69 442.40 254.77 C443.07 254.85 443.73 254.92 444.40 255.00 C445.07 255.09 445.73 255.17 446.40 255.26 C447.07 255.36 447.73 255.45 448.40 255.57 C449.07 255.70 449.73 255.84 450.40 256.00 C451.07 256.16 451.73 256.36 452.40 256.53 C453.07 256.70 453.73 256.86 454.40 257.01 C455.07 257.16 455.73 257.28 456.40 257.40 C457.07 257.53 457.73 257.66 458.40 257.76 C459.07 257.85 459.73 257.92 460.40 257.96 C461.07 257.99 461.73 257.98 462.40 257.94 C463.07 257.91 463.73 257.84 464.40 257.73 C465.07 257.62 465.73 257.47 466.40 257.29 C467.07 257.10 467.73 256.87 468.40 256.63 C469.07 256.39 469.73 256.12 470.40 255.85 C471.07 255.58 471.73 255.30 472.40 255.01 C473.07 254.72 473.73 254.42 474.40 254.11 C475.07 253.80 475.73 253.48 476.40 253.16 C477.07 252.83 477.73 252.49 478.40 252.15 C479.07 251.80 479.73 251.45 480.40 251.08 C481.07 250.72 481.73 250.34 482.40 249.94 C483.07 249.55 483.73 249.14 484.40 248.71 C485.07 248.29 485.73 247.86 486.40 247.40 C487.07 246.95 487.73 246.48 488.40 245.99 C489.07 245.49 489.73 244.97 490.40 244.41 C491.07 243.86 491.73 243.27 492.40 242.66 C493.07 242.06 493.73 241.41 494.40 240.76 C495.07 240.11 495.73 239.44 496.40 238.76 C497.07 238.08 497.73 237.38 498.40 236.66 C499.07 235.94 499.73 235.20 500.40 234.46 C501.07 233.73 501.73 232.97 502.40 232.23 C503.07 231.49 503.73 230.76 504.40 230.02 C505.07 229.28 505.73 228.54 506.40 227.82 C507.07 227.09 507.73 226.36 508.40 225.66 C509.07 224.95 509.73 224.27 510.40 223.61 C511.07 222.95 511.73 222.30 512.40 221.68 C513.07 221.06 513.73 220.44 514.40 219.88 C515.07 219.31 515.73 218.77 516.40 218.27 C517.07 217.78 517.73 217.33 518.40 216.92 C519.07 216.51 519.73 216.15 520.40 215.82 C521.07 215.48 521.73 215.18 522.40 214.92 C523.07 214.65 523.73 214.42 524.40 214.24 C525.07 214.05 525.73 213.93 526.40 213.81 C527.07 213.70 527.73 213.62 528.40 213.53 C529.07 213.44 529.73 213.33 530.40 213.27 C531.07 213.21 531.73 213.17 532.40 213.17 C533.07 213.18 533.73 213.21 534.40 213.28 C535.07 213.36 535.73 213.48 536.40 213.62 C537.07 213.76 537.73 213.93 538.40 214.12 C539.07 214.32 539.73 214.53 540.40 214.77 C541.07 215.01 541.73 215.27 542.40 215.56 C543.07 215.86 543.73 216.19 544.40 216.54 C545.07 216.90 545.73 217.28 546.40 217.69 C547.07 218.10 547.73 218.53 548.40 218.99 C549.07 219.44 549.73 219.92 550.40 220.42 C551.07 220.93 551.73 221.46 552.40 222.01 C553.07 222.55 553.73 223.12 554.40 223.70 C555.07 224.27 555.73 224.85 556.40 225.45 C557.07 226.04 557.73 226.64 558.40 227.25 C559.07 227.86 559.73 228.48 560.40 229.11 C561.07 229.73 561.73 230.36 562.40 230.99 C563.07 231.62 563.73 232.26 564.40 232.90 C565.07 233.54 565.73 234.19 566.40 234.83 C567.07 235.47 567.73 236.11 568.40 236.72 C569.07 237.33 569.73 237.92 570.40 238.50 C571.07 239.07 571.73 239.63 572.40 240.17 C573.07 240.71 573.73 241.24 574.40 241.75 C575.07 242.27 575.73 242.76 576.40 243.25 C577.07 243.73 577.73 244.20 578.40 244.66 C579.07 245.11 579.73 245.56 580.40 245.98 C581.07 246.40 581.73 246.81 582.40 247.19 C583.07 247.57 583.73 247.93 584.40 248.27 C585.07 248.60 585.73 248.92 586.40 249.21 C587.07 249.51 587.73 249.79 588.40 250.06 C589.07 250.32 589.73 250.58 590.40 250.81 C591.07 251.05 591.73 251.27 592.40 251.48 C593.07 251.69 593.73 251.88 594.40 252.06 C595.07 252.25 595.73 252.42 596.40 252.58 C597.07 252.75 597.73 252.90 598.40 253.04 C599.07 253.19 599.73 253.31 600.40 253.45 C601.07 253.59 601.73 253.74 602.40 253.90 C603.07 254.06 603.73 254.26 604.40 254.43 C605.07 254.60 605.73 254.77 606.40 254.91 C607.07 255.04 607.73 255.14 608.40 255.25 C609.07 255.36 609.73 255.46 610.40 255.56 C611.07 255.66 611.73 255.77 612.40 255.87 C613.07 255.97 613.73 256.07 614.40 256.16 C615.07 256.25 615.73 256.33 616.40 256.40 C617.07 256.46 617.73 256.52 618.40 256.56 C619.07 256.59 619.73 256.62 620.40 256.61 C621.07 256.61 621.73 256.59 622.40 256.55 C623.07 256.51 623.73 256.45 624.40 256.40 C625.07 256.34 625.73 256.28 626.40 256.21 C627.07 256.15 627.73 256.08 628.40 256.01 C629.07 255.94 629.73 255.87 630.40 255.81 C631.07 255.74 631.73 255.68 632.40 255.62 C633.07 255.56 633.73 255.51 634.40 255.46 C635.07 255.40 635.73 255.36 636.40 255.31 C637.07 255.26 637.73 255.21 638.40 255.16 C639.07 255.11 639.73 255.06 640.40 255.01 C641.07 254.96 641.73 254.91 642.40 254.86 C643.07 254.81 643.73 254.76 644.40 254.71 C645.07 254.66 645.73 254.62 646.40 254.58 C647.07 254.54 647.73 254.51 648.40 254.48 C649.07 254.44 649.73 254.41 650.40 254.38 C651.07 254.35 651.73 254.32 652.40 254.28 C653.07 254.25 653.73 254.21 654.40 254.18 C655.07 254.15 655.73 254.11 656.40 254.08 C657.07 254.04 657.73 254.01 658.40 253.98 C659.07 253.95 659.73 253.93 660.40 253.90 C661.07 253.88 661.73 253.86 662.40 253.84 C663.07 253.82 663.73 253.81 664.40 253.80 C665.07 253.79 665.73 253.79 666.40 253.79 C667.07 253.80 667.73 253.81 668.40 253.82 C669.07 253.84 669.73 253.86 670.40 253.88 C671.07 253.90 671.73 253.93 672.40 253.95 C673.07 253.98 673.73 254.02 674.40 254.05 C675.07 254.09 675.73 254.13 676.40 254.17 C677.07 254.21 678.07 254.27 678.40 254.29" fill="none" stroke="#3c3cff" stroke-width="1.00"/>
<path d="M374.40 212.55 V258.20 H679.15" fill="none" stroke="#222" stroke-width="1.50"/>
<path d="M374.40 258.20 V254.40 M404.80 258.20 V254.40 M435.20 258.20 V254.40 M465.60 258.20 V254.40 M496.00 258.20 V254.40 M526.40 258.20 V254.40 M556.80 258.20 V254.40 M587.20 258.20 V254.40 M617.60 258.20 V254.40 M648.00 258.20 V254.40 M678.40 258.20 V254.40 M374.40 235.75 H377.40 M374.40 213.30 H377.40" fill="none" stroke="#222" stroke-width="1"/>
<text x="374.40" y="268.80" font-family="Liberation Sans, sans-serif" font-size="8.50" fill="#111" text-anchor="middle">1.99</text>
<text x="404.80" y="268.80" font-family="Liberation Sans, sans-serif" font-size="8.50" fill="#111" text-anchor="middle">1.992</text>
<text x="435.20" y="268.80" font-family="Liberation Sans, sans-serif" font-size="8.50" fill="#111" text-anchor="middle">1.994</text>
<text x="465.60" y="268.80" font-family="Liberation Sans, sans-serif" font-size="8.50" fill="#111" text-anchor="middle">1.996</text>
<text x="496.00" y="268.80" font-family="Liberation Sans, sans-serif" font-size="8.50" fill="#111" text-anchor="middle">1.998</text>
<text x="526.40" y="268.80" font-family="Liberation Sans, sans-serif" font-size="8.50" fill="#111" text-anchor="middle">2</text>
<text x="556.80" y="268.80" font-family="Liberation Sans, sans-serif" font-size="8.50" fill="#111" text-anchor="middle">2.002</text>
<text x="587.20" y="268.80" font-family="Liberation Sans, sans-serif" font-size="8.50" fill="#111" text-anchor="middle">2.004</text>
<text x="617.60" y="268.80" font-family="Liberation Sans, sans-serif" font-size="8.50" fill="#111" text-anchor="middle">2.006</text>
<text x="648.00" y="268.80" font-family="Liberation Sans, sans-serif" font-size="8.50" fill="#111" text-anchor="middle">2.008</text>
<text x="678.40" y="268.80" font-family="Liberation Sans, sans-serif" font-size="8.50" fill="#111" text-anchor="middle">2.01</text>
<text x="369.40" y="260.90" font-family="Liberation Sans, sans-serif" font-size="8.70" fill="#111" text-anchor="end">0</text>
<text x="369.40" y="238.45" font-family="Liberation Sans, sans-serif" font-size="8.70" fill="#111" text-anchor="end">0.5</text>
<text x="369.40" y="216.00" font-family="Liberation Sans, sans-serif" font-size="8.70" fill="#111" text-anchor="end">1</text>
<text x="399.00" y="238.95" font-family="Liberation Sans, sans-serif" font-size="8.60" fill="#111">(iv)</text>
<path d="M254.00 14.85 H282.00" stroke="#3c3cff" stroke-width="1.00"/>
<path d="M254.00 24.50 H282.00" stroke="#ff3434" stroke-width="1.00" stroke-dasharray="5.3 2.4 1.2 2.4"/>
<text x="284.00" y="16.95" font-family="Liberation Sans, sans-serif" font-size="7.4" fill="#111">MEMS</text>
<text x="284.00" y="26.60" font-family="Liberation Sans, sans-serif" font-size="7.4" fill="#111">Benchtop</text>
<path d="M621.00 13.40 H649.40" stroke="#3c3cff" stroke-width="1.00"/>
<path d="M621.00 22.70 H649.40" stroke="#ff3434" stroke-width="1.00" stroke-dasharray="5.3 2.4 1.2 2.4"/>
<text x="651.60" y="16.10" font-family="Liberation Sans, sans-serif" font-size="7.4" fill="#111">MEMS</text>
<text x="651.60" y="25.40" font-family="Liberation Sans, sans-serif" font-size="7.4" fill="#111">Benchtop</text>
<text x="-1.5" y="11" font-family="Liberation Sans, sans-serif" font-size="15.5" font-weight="bold" fill="#000" style="stroke:none">a</text>
<text x="340" y="11" font-family="Liberation Sans, sans-serif" font-size="15.5" font-weight="bold" fill="#000" style="stroke:none">b</text>
<text transform="translate(7.30 146.50) rotate(-90)" font-family="Liberation Sans, sans-serif" font-size="9" fill="#111" text-anchor="middle">PSD (n.u.)</text>
<text transform="translate(347.90 146.50) rotate(-90)" font-family="Liberation Sans, sans-serif" font-size="9" fill="#111" text-anchor="middle">PSD (n.u.)</text>
<text x="174.50" y="284.0" font-family="Liberation Sans, sans-serif" font-size="8.8" fill="#111" text-anchor="middle">Wavelength (μm)</text>
<text x="526.40" y="284.0" font-family="Liberation Sans, sans-serif" font-size="8.8" fill="#111" text-anchor="middle">Wavelength (μm)</text>
</svg>
</body></html>
